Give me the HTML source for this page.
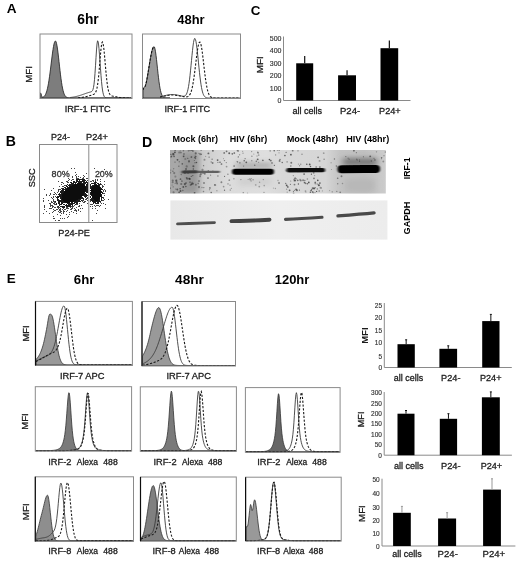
<!DOCTYPE html>
<html><head><meta charset="utf-8"><style>
html,body{margin:0;padding:0;background:#fff;width:520px;height:561px;overflow:hidden;font-family:"Liberation Sans",sans-serif;}
svg{display:block;will-change:transform;}
</style></head><body>
<svg width="520" height="561" viewBox="0 0 520 561" font-family="Liberation Sans, sans-serif"><defs><filter id="gb" x="0" y="0" width="520" height="561" filterUnits="userSpaceOnUse"><feGaussianBlur stdDeviation="0.4"/></filter></defs><g filter="url(#gb)"><rect x="0" y="0" width="520" height="561" fill="#fff"/><text x="6.81" y="13.1" font-size="13.58" font-weight="bold" fill="#000" textLength="9.81" lengthAdjust="spacingAndGlyphs">A</text>
<text x="77.27" y="23.75" font-size="13.79" font-weight="bold" fill="#000" textLength="21.46" lengthAdjust="spacingAndGlyphs">6hr</text>
<text x="177.31" y="23.75" font-size="12.95" font-weight="bold" fill="#000" textLength="27.35" lengthAdjust="spacingAndGlyphs">48hr</text>
<text transform="translate(31.8 82.72) rotate(-90)" x="0" y="0" font-size="9.61" font-weight="normal" fill="#1c1c1c" stroke="#1c1c1c" stroke-width="0.3" textLength="16.55" lengthAdjust="spacingAndGlyphs">MFI</text>
<path d="M40.5 92.89 L41.0 93.73 L41.5 95.47 L42.0 96.79 L42.5 97.27 L43.0 97.23 L43.5 96.97 L44.0 96.57 L44.5 96.04 L45.0 95.34 L45.5 94.46 L46.0 93.34 L46.5 91.96 L47.0 90.29 L47.5 88.28 L48.0 85.93 L48.5 83.22 L49.0 80.15 L49.5 76.75 L50.0 73.06 L50.5 69.14 L51.0 65.07 L51.5 60.96 L52.0 56.93 L52.5 53.09 L53.0 49.59 L53.5 46.54 L54.0 44.08 L54.5 42.29 L55.0 41.26 L55.5 41.02 L56.0 41.71 L56.5 43.34 L57.0 45.84 L57.5 49.07 L58.0 52.90 L58.5 57.13 L59.0 61.61 L59.5 66.15 L60.0 70.60 L60.5 74.84 L61.0 78.76 L61.5 82.28 L62.0 85.39 L62.5 88.05 L63.0 90.29 L63.5 92.12 L64.0 93.60 L64.5 94.76 L65.0 95.66 L65.5 96.33 L66.0 96.84 L66.5 97.20 L67.0 97.46 L67.5 97.64 L68.0 97.77 L68.5 97.85 L69.0 97.91 L69.5 97.94 L70.0 97.96 L70.5 97.98 L71.0 97.99 L71.5 97.99 L72.0 98.00 L72.5 98.00 L73.0 98.00 L73.5 98.00 L74.0 98.00 L74.5 98.00 L75.0 98.00 L75.5 98.00 L76.0 98.00 L76.5 98.00 L77.0 98.00 L77.5 98.00 L78.0 98.00 L78.5 98.00 L79.0 98.00 L79.5 98.00 L80.0 98.00 L80.5 98.00 L81.0 98.00 L81.5 98.00 L82.0 98.00 L82.5 98.00 L83.0 98.00 L83.5 98.00 L84.0 98.00 L84.5 98.00 L85.0 98.00 L85.5 98.00 L86.0 98.00 L86.5 98.00 L87.0 98.00 L87.5 98.00 L88.0 98.00 L88.5 98.00 L89.0 98.00 L89.5 98.00 L90.0 98.00 L90.5 98.00 L91.0 98.00 L91.5 98.00 L92.0 98.00 L92.5 98.00 L93.0 98.00 L93.5 98.00 L94.0 98.00 L94.5 98.00 L95.0 98.00 L95.5 98.00 L96.0 98.00 L96.5 98.00 L97.0 98.00 L97.5 98.00 L98.0 98.00 L98.5 98.00 L99.0 98.00 L99.5 98.00 L100.0 98.00 L100.5 98.00 L101.0 98.00 L101.5 98.00 L102.0 98.00 L102.5 98.00 L103.0 98.00 L103.5 98.00 L104.0 98.00 L104.5 98.00 L105.0 98.00 L105.5 98.00 L106.0 98.00 L106.5 98.00 L107.0 98.00 L107.5 98.00 L108.0 98.00 L108.5 98.00 L109.0 98.00 L109.5 98.00 L110.0 98.00 L110.5 98.00 L111.0 98.00 L111.5 98.00 L112.0 98.00 L112.5 98.00 L113.0 98.00 L113.5 98.00 L114.0 98.00 L114.5 98.00 L115.0 98.00 L115.5 98.00 L116.0 98.00 L116.5 98.00 L117.0 98.00 L117.5 98.00 L118.0 98.00 L118.5 98.00 L119.0 98.00 L119.5 98.00 L120.0 98.00 L120.5 98.00 L121.0 98.00 L121.5 98.00 L122.0 98.00 L122.5 98.00 L123.0 98.00 L123.5 98.00 L124.0 98.00 L124.5 98.00 L125.0 98.00 L125.5 98.00 L126.0 98.00 L126.5 98.00 L127.0 98.00 L127.5 98.00 L128.0 98.00 L128.5 98.00 L129.0 98.00 L129.5 98.00 L130.0 98.00 L130.5 98.00 L131.0 98.00 L131.5 98.00 L131.5 98.0 L40.5 98.0 Z" fill="#7d7d7d" stroke="#2a2a2a" stroke-width="0.9" stroke-linejoin="round"/>
<path d="M70.0 97.51 L70.5 97.46 L71.0 97.40 L71.5 97.34 L72.0 97.27 L72.5 97.20 L73.0 97.12 L73.5 97.04 L74.0 96.95 L74.5 96.86 L75.0 96.76 L75.5 96.65 L76.0 96.54 L76.5 96.42 L77.0 96.30 L77.5 96.17 L78.0 96.03 L78.5 95.89 L79.0 95.74 L79.5 95.59 L80.0 95.43 L80.5 95.27 L81.0 95.11 L81.5 94.94 L82.0 94.77 L82.5 94.59 L83.0 94.41 L83.5 94.24 L84.0 94.06 L84.5 93.88 L85.0 93.70 L85.5 93.52 L86.0 93.35 L86.5 93.18 L87.0 93.01 L87.5 92.85 L88.0 92.69 L88.5 92.54 L89.0 92.40 L89.5 92.26 L90.0 92.13 L90.5 91.99 L91.0 91.83 L91.5 91.60 L92.0 91.23 L92.5 90.57 L93.0 89.39 L93.5 87.40 L94.0 84.24 L94.5 79.60 L95.0 73.33 L95.5 65.76 L96.0 57.63 L96.5 49.98 L97.0 44.02 L97.5 40.90 L98.0 41.19 L98.5 43.97 L99.0 48.69 L99.5 54.83 L100.0 61.76 L100.5 68.83 L101.0 75.51 L101.5 81.38 L102.0 86.23 L102.5 90.02 L103.0 92.81 L103.5 94.77 L104.0 96.08 L104.5 96.90 L105.0 97.40 L105.5 97.69 L106.0 97.84 L106.5 97.92 L107.0 97.97 L107.5 97.98 L108.0 97.99 L108.5 98.00 L109.0 98.00 L109.5 98.00 L110.0 98.00 L110.5 98.00 L111.0 98.00 L111.5 98.00 L112.0 98.00 L112.5 98.00 L113.0 98.00 L113.5 98.00 L114.0 98.00 L114.5 98.00 L115.0 98.00 L115.5 98.00 L116.0 98.00 L116.5 98.00 L117.0 98.00 L117.5 98.00 L118.0 98.00 L118.5 98.00 L119.0 98.00 L119.5 98.00 L120.0 98.00 L120.5 98.00 L121.0 98.00 L121.5 98.00 L122.0 98.00 L122.5 98.00 L123.0 98.00 L123.5 98.00 L124.0 98.00 L124.5 98.00 L125.0 98.00 L125.5 98.00 L126.0 98.00 L126.5 98.00 L127.0 98.00 L127.5 98.00 L128.0 98.00 L128.5 98.00 L129.0 98.00 L129.5 98.00 L130.0 98.00 L130.5 98.00 L131.0 98.00" fill="none" stroke="#3a3a3a" stroke-width="0.9" stroke-linejoin="round"/>
<path d="M78.0 97.77 L78.5 97.74 L79.0 97.70 L79.5 97.66 L80.0 97.62 L80.5 97.57 L81.0 97.52 L81.5 97.46 L82.0 97.39 L82.5 97.32 L83.0 97.24 L83.5 97.16 L84.0 97.07 L84.5 96.98 L85.0 96.88 L85.5 96.77 L86.0 96.66 L86.5 96.54 L87.0 96.41 L87.5 96.28 L88.0 96.15 L88.5 96.01 L89.0 95.87 L89.5 95.72 L90.0 95.57 L90.5 95.42 L91.0 95.27 L91.5 95.11 L92.0 94.95 L92.5 94.79 L93.0 94.61 L93.5 94.40 L94.0 94.14 L94.5 93.80 L95.0 93.32 L95.5 92.62 L96.0 91.61 L96.5 90.15 L97.0 88.11 L97.5 85.37 L98.0 81.82 L98.5 77.41 L99.0 72.22 L99.5 66.40 L100.0 60.28 L100.5 54.32 L101.0 49.07 L101.5 45.02 L102.0 42.57 L102.5 42.00 L103.0 43.24 L103.5 46.06 L104.0 50.20 L104.5 55.31 L105.0 60.98 L105.5 66.81 L106.0 72.43 L106.5 77.55 L107.0 82.00 L107.5 85.68 L108.0 88.61 L108.5 90.85 L109.0 92.49 L109.5 93.68 L110.0 94.52 L110.5 95.11 L111.0 95.50 L111.5 95.76 L112.0 95.94 L112.5 96.08 L113.0 96.19 L113.5 96.29 L114.0 96.39 L114.5 96.48 L115.0 96.58 L115.5 96.68 L116.0 96.79 L116.5 96.89 L117.0 96.99 L117.5 97.08 L118.0 97.18 L118.5 97.27 L119.0 97.35 L119.5 97.43 L120.0 97.50 L120.5 97.57 L121.0 97.63 L121.5 97.68 L122.0 97.73 L122.5 97.77 L123.0 97.81 L123.5 97.84 L124.0 97.87 L124.5 97.89 L125.0 97.91 L125.5 97.93 L126.0 97.94 L126.5 97.95 L127.0 97.96 L127.5 97.97 L128.0 97.98 L128.5 97.98 L129.0 97.99 L129.5 97.99 L130.0 97.99 L130.5 97.99 L131.0 98.00" fill="none" stroke="#1a1a1a" stroke-width="1.1" stroke-dasharray="2.2 1.6"/>
<rect x="40" y="34" width="92" height="64.5" fill="none" stroke="#8a8a8a" stroke-width="1"/>
<text x="64.67" y="112.1" font-size="9.21" font-weight="normal" fill="#1c1c1c" stroke="#1c1c1c" stroke-width="0.3" textLength="46.04" lengthAdjust="spacingAndGlyphs">IRF-1 FITC</text>
<path d="M143.0 89.91 L143.5 88.34 L144.0 87.53 L144.5 87.14 L145.0 86.55 L145.5 85.36 L146.0 83.56 L146.5 81.30 L147.0 78.74 L147.5 75.96 L148.0 73.03 L148.5 69.99 L149.0 66.88 L149.5 63.78 L150.0 60.75 L150.5 57.85 L151.0 55.15 L151.5 52.73 L152.0 50.64 L152.5 48.96 L153.0 47.72 L153.5 46.96 L154.0 46.70 L154.5 47.29 L155.0 49.00 L155.5 51.74 L156.0 55.31 L156.5 59.50 L157.0 64.06 L157.5 68.77 L158.0 73.39 L158.5 77.75 L159.0 81.72 L159.5 85.21 L160.0 88.18 L160.5 90.63 L161.0 92.59 L161.5 94.12 L162.0 95.28 L162.5 96.14 L163.0 96.76 L163.5 97.19 L164.0 97.48 L164.5 97.68 L165.0 97.80 L165.5 97.88 L166.0 97.93 L166.5 97.96 L167.0 97.98 L167.5 97.99 L168.0 97.99 L168.5 98.00 L169.0 98.00 L169.5 98.00 L170.0 98.00 L170 98.0 L143 98.0 Z" fill="#9a9a9a" stroke="#2a2a2a" stroke-width="0.9" stroke-linejoin="round"/>
<path d="M143.0 89.91 L143.5 88.34 L144.0 87.53 L144.5 87.14 L145.0 86.55 L145.5 85.36 L146.0 83.56 L146.5 81.30 L147.0 78.74 L147.5 75.96 L148.0 73.03 L148.5 69.99 L149.0 66.88 L149.5 63.78 L150.0 60.75 L150.5 57.85 L151.0 55.15 L151.5 52.73 L152.0 50.64 L152.5 48.96 L153.0 47.72 L153.5 46.96 L154.0 46.70 L154.5 47.29" fill="none" stroke="#111" stroke-width="1.1" stroke-dasharray="2.2 1.6"/>
<path d="M160.0 96.86 L160.5 96.75 L161.0 96.64 L161.5 96.52 L162.0 96.40 L162.5 96.27 L163.0 96.14 L163.5 96.01 L164.0 95.88 L164.5 95.74 L165.0 95.61 L165.5 95.48 L166.0 95.36 L166.5 95.24 L167.0 95.12 L167.5 95.01 L168.0 94.91 L168.5 94.82 L169.0 94.74 L169.5 94.67 L170.0 94.61 L170.5 94.56 L171.0 94.53 L171.5 94.51 L172.0 94.50 L172.5 94.51 L173.0 94.52 L173.5 94.55 L174.0 94.59 L174.5 94.63 L175.0 94.69 L175.5 94.75 L176.0 94.83 L176.5 94.91 L177.0 95.00 L177.5 95.10 L178.0 95.20 L178.5 95.30 L179.0 95.41 L179.5 95.52 L180.0 95.64 L180.5 95.75 L181.0 95.86 L181.5 95.97 L182.0 96.06 L182.5 96.14 L183.0 96.20 L183.5 96.22 L184.0 96.18 L184.5 96.06 L185.0 95.83 L185.5 95.45 L186.0 94.87 L186.5 94.02 L187.0 92.85 L187.5 91.27 L188.0 89.23 L188.5 86.67 L189.0 83.53 L189.5 79.83 L190.0 75.58 L190.5 70.85 L191.0 65.78 L191.5 60.54 L192.0 55.34 L192.5 50.44 L193.0 46.09 L193.5 42.53 L194.0 39.99 L194.5 38.62 L195.0 38.50 L195.5 39.54 L196.0 41.65 L196.5 44.73 L197.0 48.60 L197.5 53.06 L198.0 57.89 L198.5 62.89 L199.0 67.86 L199.5 72.61 L200.0 77.02 L200.5 81.00 L201.0 84.49 L201.5 87.46 L202.0 89.94 L202.5 91.95 L203.0 93.55 L203.5 94.79 L204.0 95.72 L204.5 96.42 L205.0 96.92 L205.5 97.28 L206.0 97.53 L206.5 97.70 L207.0 97.81 L207.5 97.88 L208.0 97.93 L208.5 97.96 L209.0 97.97 L209.5 97.99 L210.0 97.99 L210.5 98.00 L211.0 98.00 L211.5 98.00 L212.0 98.00 L212.5 98.00 L213.0 98.00 L213.5 98.00 L214.0 98.00 L214.5 98.00 L215.0 98.00 L215.5 98.00 L216.0 98.00 L216.5 98.00 L217.0 98.00 L217.5 98.00 L218.0 98.00 L218.5 98.00 L219.0 98.00 L219.5 98.00 L220.0 98.00 L220.5 98.00 L221.0 98.00 L221.5 98.00 L222.0 98.00 L222.5 98.00 L223.0 98.00 L223.5 98.00 L224.0 98.00 L224.5 98.00 L225.0 98.00 L225.5 98.00 L226.0 98.00 L226.5 98.00 L227.0 98.00 L227.5 98.00 L228.0 98.00 L228.5 98.00 L229.0 98.00 L229.5 98.00 L230.0 98.00 L230.5 98.00 L231.0 98.00 L231.5 98.00 L232.0 98.00 L232.5 98.00 L233.0 98.00 L233.5 98.00 L234.0 98.00 L234.5 98.00 L235.0 98.00 L235.5 98.00 L236.0 98.00 L236.5 98.00 L237.0 98.00 L237.5 98.00 L238.0 98.00 L238.5 98.00 L239.0 98.00 L239.5 98.00 L240.0 98.00" fill="none" stroke="#3a3a3a" stroke-width="0.9" stroke-linejoin="round"/>
<path d="M160.0 97.03 L160.5 96.93 L161.0 96.83 L161.5 96.73 L162.0 96.63 L162.5 96.52 L163.0 96.41 L163.5 96.29 L164.0 96.18 L164.5 96.07 L165.0 95.95 L165.5 95.84 L166.0 95.74 L166.5 95.63 L167.0 95.53 L167.5 95.44 L168.0 95.35 L168.5 95.27 L169.0 95.20 L169.5 95.14 L170.0 95.09 L170.5 95.05 L171.0 95.02 L171.5 95.01 L172.0 95.00 L172.5 95.00 L173.0 95.02 L173.5 95.04 L174.0 95.07 L174.5 95.11 L175.0 95.16 L175.5 95.22 L176.0 95.28 L176.5 95.35 L177.0 95.43 L177.5 95.51 L178.0 95.60 L178.5 95.69 L179.0 95.78 L179.5 95.88 L180.0 95.98 L180.5 96.08 L181.0 96.18 L181.5 96.28 L182.0 96.38 L182.5 96.47 L183.0 96.57 L183.5 96.65 L184.0 96.73 L184.5 96.80 L185.0 96.86 L185.5 96.90 L186.0 96.91 L186.5 96.89 L187.0 96.82 L187.5 96.70 L188.0 96.49 L188.5 96.19 L189.0 95.75 L189.5 95.16 L190.0 94.38 L190.5 93.36 L191.0 92.08 L191.5 90.50 L192.0 88.58 L192.5 86.30 L193.0 83.66 L193.5 80.64 L194.0 77.27 L194.5 73.59 L195.0 69.68 L195.5 65.61 L196.0 61.48 L196.5 57.44 L197.0 53.60 L197.5 50.12 L198.0 47.12 L198.5 44.73 L199.0 43.05 L199.5 42.15 L200.0 42.08 L200.5 42.90 L201.0 44.60 L201.5 47.08 L202.0 50.25 L202.5 53.94 L203.0 58.02 L203.5 62.30 L204.0 66.65 L204.5 70.92 L205.0 74.98 L205.5 78.76 L206.0 82.18 L206.5 85.20 L207.0 87.82 L207.5 90.03 L208.0 91.86 L208.5 93.35 L209.0 94.54 L209.5 95.46 L210.0 96.17 L210.5 96.70 L211.0 97.09 L211.5 97.38 L212.0 97.58 L212.5 97.72 L213.0 97.82 L213.5 97.88 L214.0 97.93 L214.5 97.95 L215.0 97.97 L215.5 97.98 L216.0 97.99 L216.5 97.99 L217.0 98.00 L217.5 98.00 L218.0 98.00 L218.5 98.00 L219.0 98.00 L219.5 98.00 L220.0 98.00 L220.5 98.00 L221.0 98.00 L221.5 98.00 L222.0 98.00 L222.5 98.00 L223.0 98.00 L223.5 98.00 L224.0 98.00 L224.5 98.00 L225.0 98.00 L225.5 98.00 L226.0 98.00 L226.5 98.00 L227.0 98.00 L227.5 98.00 L228.0 98.00 L228.5 98.00 L229.0 98.00 L229.5 98.00 L230.0 98.00 L230.5 98.00 L231.0 98.00 L231.5 98.00 L232.0 98.00 L232.5 98.00 L233.0 98.00 L233.5 98.00 L234.0 98.00 L234.5 98.00 L235.0 98.00 L235.5 98.00 L236.0 98.00 L236.5 98.00 L237.0 98.00 L237.5 98.00 L238.0 98.00 L238.5 98.00 L239.0 98.00 L239.5 98.00 L240.0 98.00" fill="none" stroke="#1a1a1a" stroke-width="1.1" stroke-dasharray="2.2 1.6"/>
<rect x="142.5" y="34" width="98.0" height="64.5" fill="none" stroke="#8a8a8a" stroke-width="1"/>
<text x="164.43" y="112.2" font-size="9.14" font-weight="normal" fill="#1c1c1c" stroke="#1c1c1c" stroke-width="0.3" textLength="45.68" lengthAdjust="spacingAndGlyphs">IRF-1 FITC</text>
<text x="250.72" y="15" font-size="13.36" font-weight="bold" fill="#000" textLength="9.65" lengthAdjust="spacingAndGlyphs">C</text>
<text transform="translate(262.5 73.29) rotate(-90)" x="0" y="0" font-size="9.90" font-weight="normal" fill="#1c1c1c" stroke="#1c1c1c" stroke-width="0.3" textLength="17.05" lengthAdjust="spacingAndGlyphs">MFI</text>
<text x="281.5" y="103.1" font-size="7" font-weight="normal" text-anchor="end" fill="#333" stroke="#333" stroke-width="0.15">0</text>
<text x="281.5" y="90.6" font-size="7" font-weight="normal" text-anchor="end" fill="#333" stroke="#333" stroke-width="0.15">100</text>
<text x="281.5" y="78.1" font-size="7" font-weight="normal" text-anchor="end" fill="#333" stroke="#333" stroke-width="0.15">200</text>
<text x="281.5" y="65.6" font-size="7" font-weight="normal" text-anchor="end" fill="#333" stroke="#333" stroke-width="0.15">300</text>
<text x="281.5" y="53.099999999999994" font-size="7" font-weight="normal" text-anchor="end" fill="#333" stroke="#333" stroke-width="0.15">400</text>
<text x="281.5" y="40.599999999999994" font-size="7" font-weight="normal" text-anchor="end" fill="#333" stroke="#333" stroke-width="0.15">500</text>
<path d="M283.5 36.5 V100.5 H410.5" fill="none" stroke="#8a8a8a" stroke-width="1"/>
<rect x="296.2" y="63.3" width="17.0" height="37.2" fill="#000"/>
<path d="M304.7 63.3 V56" stroke="#111" stroke-width="1.2"/>
<rect x="338.1" y="75.3" width="17.899999999999977" height="25.200000000000003" fill="#000"/>
<path d="M347.05 75.3 V70.2" stroke="#111" stroke-width="1.2"/>
<rect x="380.5" y="48.2" width="17.69999999999999" height="52.3" fill="#000"/>
<path d="M389.35 48.2 V40.4" stroke="#111" stroke-width="1.2"/>
<text x="292.39" y="113.75" font-size="9.05" font-weight="normal" fill="#1c1c1c" stroke="#1c1c1c" stroke-width="0.3" textLength="29.67" lengthAdjust="spacingAndGlyphs">all cells</text>
<text x="339.99" y="113.75" font-size="9.55" font-weight="normal" fill="#1c1c1c" stroke="#1c1c1c" stroke-width="0.3" textLength="20.17" lengthAdjust="spacingAndGlyphs">P24-</text>
<text x="379.02" y="113.75" font-size="9.17" font-weight="normal" fill="#1c1c1c" stroke="#1c1c1c" stroke-width="0.3" textLength="21.68" lengthAdjust="spacingAndGlyphs">P24+</text>
<text x="5.83" y="146.1" font-size="14.10" font-weight="bold" fill="#000" textLength="10.18" lengthAdjust="spacingAndGlyphs">B</text>
<text x="51.03" y="140" font-size="8.99" font-weight="normal" fill="#1c1c1c" stroke="#1c1c1c" stroke-width="0.3" textLength="19.00" lengthAdjust="spacingAndGlyphs">P24-</text>
<text x="86.01" y="140" font-size="9.31" font-weight="normal" fill="#1c1c1c" stroke="#1c1c1c" stroke-width="0.3" textLength="21.99" lengthAdjust="spacingAndGlyphs">P24+</text>
<text transform="translate(35.1 187.26) rotate(-90)" x="0" y="0" font-size="9.16" font-weight="normal" fill="#1c1c1c" stroke="#1c1c1c" stroke-width="0.3" textLength="18.84" lengthAdjust="spacingAndGlyphs">SSC</text>
<text x="58.27" y="236.4" font-size="9.17" font-weight="normal" fill="#1c1c1c" stroke="#1c1c1c" stroke-width="0.3" textLength="31.61" lengthAdjust="spacingAndGlyphs">P24-PE</text>
<defs><filter id="sblur" x="0" y="0" width="1" height="1"><feGaussianBlur stdDeviation="0.35"/></filter></defs><g filter="url(#sblur)">
<rect x="40" y="145" width="76.5" height="77" fill="#fff"/>
<path d="M71 168h1v1h-1zM74 168h1v1h-1zM94 168h1v1h-1zM104 169h1v1h-1zM75 172h1v1h-1zM86 173h1v1h-1zM76 174h1v1h-1zM75 175h1v1h-1zM83 175h1v1h-1zM72 176h1v1h-1zM76 176h1v1h-1zM78 176h1v1h-1zM84 176h1v1h-1zM72 177h1v1h-1zM76 177h1v1h-1zM80 177h1v1h-1zM83 177h1v1h-1zM68 178h1v1h-1zM76 178h3v1h-3zM82 178h2v1h-2zM86 178h2v1h-2zM69 179h1v1h-1zM72 179h2v1h-2zM95 179h1v1h-1zM97 179h1v1h-1zM100 179h1v1h-1zM68 180h1v1h-1zM71 180h1v1h-1zM87 180h1v1h-1zM92 180h2v1h-2zM95 180h1v1h-1zM97 180h1v1h-1zM58 181h1v1h-1zM66 181h2v1h-2zM90 181h2v1h-2zM93 181h1v1h-1zM100 181h1v1h-1zM104 181h1v1h-1zM61 182h2v1h-2zM67 182h2v1h-2zM63 183h1v1h-1zM100 183h1v1h-1zM61 184h1v1h-1zM101 184h1v1h-1zM104 184h1v1h-1zM64 185h2v1h-2zM102 185h1v1h-1zM59 186h1v1h-1zM62 186h2v1h-2zM102 186h2v1h-2zM102 187h1v1h-1zM53 188h1v1h-1zM61 188h1v1h-1zM44 189h1v1h-1zM58 189h3v1h-3zM104 189h1v1h-1zM51 190h1v1h-1zM58 190h1v1h-1zM103 190h1v1h-1zM105 190h1v1h-1zM58 191h1v1h-1zM103 191h1v1h-1zM105 191h1v1h-1zM54 192h1v1h-1zM57 192h1v1h-1zM50 193h1v1h-1zM55 193h1v1h-1zM103 193h2v1h-2zM46 194h1v1h-1zM50 194h1v1h-1zM53 194h2v1h-2zM56 194h1v1h-1zM46 195h1v1h-1zM49 195h1v1h-1zM104 195h1v1h-1zM53 196h1v1h-1zM55 196h1v1h-1zM51 197h1v1h-1zM53 197h1v1h-1zM87 197h1v1h-1zM103 197h1v1h-1zM43 198h1v1h-1zM52 198h1v1h-1zM86 198h2v1h-2zM103 198h1v1h-1zM53 199h1v1h-1zM85 199h2v1h-2zM104 199h1v1h-1zM108 199h1v1h-1zM43 200h1v1h-1zM48 200h1v1h-1zM53 200h1v1h-1zM82 200h2v1h-2zM87 200h1v1h-1zM90 200h1v1h-1zM102 200h2v1h-2zM43 201h1v1h-1zM51 201h1v1h-1zM53 201h2v1h-2zM82 201h1v1h-1zM84 201h2v1h-2zM90 201h1v1h-1zM51 202h2v1h-2zM54 202h2v1h-2zM83 202h2v1h-2zM100 202h1v1h-1zM49 203h2v1h-2zM53 203h2v1h-2zM79 203h1v1h-1zM87 203h1v1h-1zM101 203h1v1h-1zM103 203h1v1h-1zM50 204h1v1h-1zM54 204h2v1h-2zM76 204h2v1h-2zM90 204h3v1h-3zM105 204h1v1h-1zM44 205h1v1h-1zM50 205h3v1h-3zM74 205h1v1h-1zM79 205h1v1h-1zM81 205h1v1h-1zM94 205h1v1h-1zM96 205h3v1h-3zM100 205h1v1h-1zM44 206h1v1h-1zM50 206h1v1h-1zM52 206h2v1h-2zM57 206h1v1h-1zM71 206h3v1h-3zM78 206h2v1h-2zM90 206h1v1h-1zM92 206h1v1h-1zM95 206h1v1h-1zM99 206h1v1h-1zM44 207h1v1h-1zM52 207h1v1h-1zM54 207h2v1h-2zM57 207h3v1h-3zM66 207h2v1h-2zM70 207h1v1h-1zM72 207h1v1h-1zM76 207h1v1h-1zM49 208h3v1h-3zM58 208h1v1h-1zM60 208h1v1h-1zM63 208h1v1h-1zM66 208h3v1h-3zM71 208h2v1h-2zM74 208h1v1h-1zM80 208h1v1h-1zM82 208h1v1h-1zM92 208h1v1h-1zM95 208h1v1h-1zM105 208h1v1h-1zM44 209h1v1h-1zM53 209h1v1h-1zM56 209h2v1h-2zM59 209h2v1h-2zM62 209h1v1h-1zM64 209h2v1h-2zM70 209h2v1h-2zM75 209h1v1h-1zM78 209h1v1h-1zM54 210h2v1h-2zM59 210h2v1h-2zM63 210h1v1h-1zM67 210h1v1h-1zM74 210h3v1h-3zM78 210h1v1h-1zM97 210h1v1h-1zM46 211h1v1h-1zM53 211h1v1h-1zM58 211h1v1h-1zM60 211h2v1h-2zM63 211h2v1h-2zM66 211h1v1h-1zM71 211h1v1h-1zM76 211h1v1h-1zM80 211h1v1h-1zM52 212h1v1h-1zM59 212h2v1h-2zM63 212h1v1h-1zM69 212h1v1h-1zM73 212h1v1h-1zM43 213h1v1h-1zM49 213h1v1h-1zM61 213h1v1h-1zM63 213h1v1h-1zM76 213h1v1h-1zM96 213h1v1h-1zM57 214h1v1h-1zM66 214h1v1h-1zM69 214h1v1h-1zM60 215h1v1h-1zM53 216h1v1h-1zM68 216h1v1h-1zM67 217h1v1h-1zM53 218h2v1h-2zM60 218h1v1h-1zM62 218h1v1h-1zM64 218h1v1h-1zM55 220h1v1h-1zM58 220h2v1h-2zM92 220h1v1h-1z" fill="#444"/>
<path d="M76 179h9v1h-9zM76 180h2v1h-2zM79 180h1v1h-1zM82 180h4v1h-4zM73 181h2v1h-2zM76 181h9v1h-9zM86 181h1v1h-1zM95 181h1v1h-1zM70 182h2v1h-2zM73 182h4v1h-4zM78 182h4v1h-4zM83 182h5v1h-5zM94 182h3v1h-3zM71 183h3v1h-3zM75 183h1v1h-1zM81 183h5v1h-5zM87 183h1v1h-1zM91 183h5v1h-5zM97 183h2v1h-2zM67 184h1v1h-1zM69 184h5v1h-5zM84 184h1v1h-1zM86 184h2v1h-2zM90 184h1v1h-1zM94 184h3v1h-3zM98 184h3v1h-3zM66 185h1v1h-1zM68 185h4v1h-4zM86 185h2v1h-2zM90 185h1v1h-1zM92 185h2v1h-2zM98 185h2v1h-2zM66 186h2v1h-2zM69 186h1v1h-1zM85 186h3v1h-3zM90 186h3v1h-3zM99 186h1v1h-1zM64 187h2v1h-2zM67 187h2v1h-2zM86 187h2v1h-2zM90 187h2v1h-2zM100 187h1v1h-1zM62 188h2v1h-2zM65 188h2v1h-2zM86 188h2v1h-2zM90 188h2v1h-2zM100 188h2v1h-2zM62 189h4v1h-4zM86 189h2v1h-2zM101 189h2v1h-2zM61 190h3v1h-3zM86 190h2v1h-2zM90 190h1v1h-1zM60 191h4v1h-4zM85 191h3v1h-3zM101 191h1v1h-1zM60 192h4v1h-4zM86 192h2v1h-2zM90 192h1v1h-1zM101 192h2v1h-2zM59 193h1v1h-1zM61 193h2v1h-2zM84 193h2v1h-2zM90 193h1v1h-1zM102 193h1v1h-1zM58 194h4v1h-4zM84 194h3v1h-3zM90 194h1v1h-1zM101 194h1v1h-1zM59 195h3v1h-3zM83 195h5v1h-5zM91 195h1v1h-1zM101 195h1v1h-1zM57 196h5v1h-5zM84 196h3v1h-3zM90 196h1v1h-1zM101 196h1v1h-1zM56 197h3v1h-3zM60 197h2v1h-2zM81 197h2v1h-2zM85 197h1v1h-1zM90 197h1v1h-1zM101 197h2v1h-2zM57 198h1v1h-1zM60 198h2v1h-2zM80 198h4v1h-4zM91 198h2v1h-2zM101 198h1v1h-1zM57 199h2v1h-2zM61 199h1v1h-1zM78 199h3v1h-3zM83 199h1v1h-1zM90 199h4v1h-4zM99 199h1v1h-1zM101 199h1v1h-1zM57 200h6v1h-6zM76 200h4v1h-4zM81 200h1v1h-1zM91 200h4v1h-4zM98 200h2v1h-2zM101 200h1v1h-1zM55 201h1v1h-1zM58 201h6v1h-6zM74 201h7v1h-7zM92 201h9v1h-9zM58 202h2v1h-2zM61 202h5v1h-5zM71 202h2v1h-2zM74 202h4v1h-4zM93 202h3v1h-3zM97 202h2v1h-2zM56 203h1v1h-1zM58 203h2v1h-2zM61 203h2v1h-2zM67 203h8v1h-8zM76 203h2v1h-2zM93 203h1v1h-1zM95 203h4v1h-4zM56 204h1v1h-1zM59 204h3v1h-3zM63 204h2v1h-2zM66 204h1v1h-1zM68 204h5v1h-5zM75 204h1v1h-1zM59 205h1v1h-1zM65 205h6v1h-6zM72 205h1v1h-1zM58 206h1v1h-1zM60 206h5v1h-5zM66 206h5v1h-5zM62 207h3v1h-3z" fill="#1a1a1a"/>
<path d="M77 183h4v1h-4zM74 184h10v1h-10zM72 185h13v1h-13zM94 185h4v1h-4zM70 186h15v1h-15zM93 186h6v1h-6zM69 187h17v1h-17zM92 187h8v1h-8zM67 188h19v1h-19zM92 188h8v1h-8zM66 189h20v1h-20zM91 189h10v1h-10zM65 190h21v1h-21zM91 190h10v1h-10zM64 191h21v1h-21zM91 191h10v1h-10zM64 192h21v1h-21zM91 192h10v1h-10zM63 193h21v1h-21zM91 193h10v1h-10zM62 194h22v1h-22zM91 194h10v1h-10zM62 195h21v1h-21zM92 195h9v1h-9zM62 196h20v1h-20zM92 196h9v1h-9zM62 197h19v1h-19zM92 197h8v1h-8zM62 198h18v1h-18zM93 198h7v1h-7zM62 199h16v1h-16zM94 199h5v1h-5zM63 200h13v1h-13zM95 200h3v1h-3zM64 201h10v1h-10zM66 202h4v1h-4z" fill="#111"/>
</g>
<rect x="39.5" y="144.5" width="77.5" height="78.0" fill="none" stroke="#8a8a8a" stroke-width="1"/>
<path d="M88.8 144.5 V222.5" stroke="#8a8a8a" stroke-width="1"/>
<text x="51.64" y="176.8" font-size="9.06" font-weight="normal" fill="#333" stroke="#333" stroke-width="0.3" textLength="18.14" lengthAdjust="spacingAndGlyphs">80%</text>
<text x="94.91" y="176.8" font-size="8.88" font-weight="normal" fill="#333" stroke="#333" stroke-width="0.3" textLength="17.77" lengthAdjust="spacingAndGlyphs">20%</text>
<text x="142.03" y="147.1" font-size="14.15" font-weight="bold" fill="#000" textLength="10.22" lengthAdjust="spacingAndGlyphs">D</text>
<text x="172.47" y="142.4" font-size="9.00" font-weight="bold" fill="#000" textLength="45.50" lengthAdjust="spacingAndGlyphs">Mock (6hr)</text>
<text x="229.77" y="142.4" font-size="8.98" font-weight="bold" fill="#000" textLength="37.41" lengthAdjust="spacingAndGlyphs">HIV (6hr)</text>
<text x="286.65" y="142.4" font-size="9.16" font-weight="bold" fill="#000" textLength="51.43" lengthAdjust="spacingAndGlyphs">Mock (48hr)</text>
<text x="346.26" y="142.4" font-size="9.09" font-weight="bold" fill="#000" textLength="42.93" lengthAdjust="spacingAndGlyphs">HIV (48hr)</text>
<text transform="translate(410 179.21) rotate(-90)" x="0" y="0" font-size="8.67" font-weight="bold" fill="#000" textLength="21.68" lengthAdjust="spacingAndGlyphs">IRF-1</text>
<text transform="translate(410 234.41) rotate(-90)" x="0" y="0" font-size="9.07" font-weight="bold" fill="#000" textLength="32.77" lengthAdjust="spacingAndGlyphs">GAPDH</text>
<defs><filter id="bl1" x="-20%" y="-200%" width="140%" height="500%"><feGaussianBlur stdDeviation="0.9 0.7"/></filter><filter id="bl0" x="-20%" y="-200%" width="140%" height="500%"><feGaussianBlur stdDeviation="0.6 0.5"/></filter><filter id="bl2" x="-30%" y="-60%" width="160%" height="220%"><feGaussianBlur stdDeviation="3 2.5"/></filter><clipPath id="cup"><rect x="170" y="150" width="215.8" height="43.5"/></clipPath><clipPath id="clo"><rect x="170.4" y="200.4" width="217" height="39.2"/></clipPath><linearGradient id="gup" gradientUnits="userSpaceOnUse" x1="170" x2="386" y1="0" y2="0"><stop offset="0" stop-color="#a8a8a8"/><stop offset="0.11" stop-color="#afafaf"/><stop offset="0.15" stop-color="#cccccc"/><stop offset="0.27" stop-color="#dcdcdc"/><stop offset="0.45" stop-color="#dedede"/><stop offset="0.52" stop-color="#d8d8d8"/><stop offset="0.72" stop-color="#d6d6d6"/><stop offset="0.785" stop-color="#c4c4c4"/><stop offset="0.9" stop-color="#c0c0c0"/><stop offset="1" stop-color="#cccccc"/></linearGradient><linearGradient id="glo" gradientUnits="userSpaceOnUse" x1="170" x2="388" y1="0" y2="0"><stop offset="0" stop-color="#e8e8e8"/><stop offset="0.5" stop-color="#efefef"/><stop offset="1" stop-color="#ececec"/></linearGradient></defs>
<rect x="170" y="150" width="215.8" height="43.5" fill="url(#gup)"/>
<g clip-path="url(#cup)"><g filter="url(#bl2)"><rect x="236" y="162" width="36" height="7" fill="#b0b0b0"/><rect x="238" y="177" width="34" height="9" fill="#d0d0d0"/><rect x="343" y="158" width="34" height="8" fill="#7a7a7a"/><rect x="345" y="179" width="30" height="13" fill="#b8b8b8"/><rect x="172" y="154" width="24" height="38" fill="#a8a8a8" opacity="0.7"/><rect x="181" y="153" width="18" height="40" fill="#8c8c8c" opacity="0.6"/></g></g>
<g clip-path="url(#cup)"><g filter="url(#bl0)"><circle cx="177.5" cy="159.8" r="0.91" fill="#333" opacity="0.75"/><circle cx="192.8" cy="175.6" r="0.61" fill="#333" opacity="0.71"/><circle cx="193.4" cy="166.2" r="1.03" fill="#333" opacity="0.70"/><circle cx="192.9" cy="151.0" r="0.95" fill="#333" opacity="0.46"/><circle cx="173.0" cy="153.4" r="0.68" fill="#333" opacity="0.48"/><circle cx="181.2" cy="174.5" r="0.75" fill="#333" opacity="0.46"/><circle cx="189.9" cy="178.9" r="0.80" fill="#333" opacity="0.55"/><circle cx="196.5" cy="162.4" r="0.76" fill="#333" opacity="0.77"/><circle cx="173.2" cy="154.4" r="1.05" fill="#333" opacity="0.70"/><circle cx="183.6" cy="156.3" r="0.87" fill="#333" opacity="0.76"/><circle cx="201.0" cy="173.9" r="1.10" fill="#333" opacity="0.39"/><circle cx="179.2" cy="152.6" r="1.02" fill="#333" opacity="0.40"/><circle cx="195.1" cy="156.0" r="0.62" fill="#333" opacity="0.48"/><circle cx="195.9" cy="184.8" r="0.96" fill="#333" opacity="0.45"/><circle cx="177.1" cy="183.5" r="0.91" fill="#333" opacity="0.56"/><circle cx="191.4" cy="184.2" r="0.87" fill="#333" opacity="0.72"/><circle cx="204.8" cy="173.6" r="0.82" fill="#333" opacity="0.59"/><circle cx="172.7" cy="182.2" r="0.97" fill="#333" opacity="0.45"/><circle cx="203.1" cy="173.2" r="0.81" fill="#333" opacity="0.61"/><circle cx="185.6" cy="171.5" r="1.10" fill="#333" opacity="0.81"/><circle cx="184.9" cy="184.1" r="1.06" fill="#333" opacity="0.69"/><circle cx="204.9" cy="174.1" r="0.70" fill="#333" opacity="0.49"/><circle cx="175.8" cy="189.1" r="0.63" fill="#333" opacity="0.52"/><circle cx="203.5" cy="191.5" r="0.72" fill="#333" opacity="0.47"/><circle cx="171.5" cy="156.2" r="0.69" fill="#333" opacity="0.52"/><circle cx="172.2" cy="185.0" r="0.61" fill="#333" opacity="0.39"/><circle cx="184.7" cy="172.4" r="1.02" fill="#333" opacity="0.41"/><circle cx="170.7" cy="170.1" r="0.66" fill="#333" opacity="0.40"/><circle cx="190.7" cy="185.0" r="1.04" fill="#333" opacity="0.45"/><circle cx="186.5" cy="177.7" r="0.82" fill="#333" opacity="0.61"/><circle cx="174.2" cy="173.1" r="1.07" fill="#333" opacity="0.44"/><circle cx="190.0" cy="182.2" r="1.02" fill="#333" opacity="0.43"/><circle cx="202.5" cy="169.9" r="1.06" fill="#333" opacity="0.44"/><circle cx="195.0" cy="162.8" r="0.70" fill="#333" opacity="0.55"/><circle cx="175.2" cy="183.3" r="0.64" fill="#333" opacity="0.48"/><circle cx="192.8" cy="183.7" r="1.06" fill="#333" opacity="0.66"/><circle cx="179.1" cy="192.3" r="0.88" fill="#333" opacity="0.67"/><circle cx="175.0" cy="162.1" r="0.70" fill="#333" opacity="0.63"/><circle cx="180.1" cy="188.7" r="0.75" fill="#333" opacity="0.73"/><circle cx="182.3" cy="163.8" r="0.85" fill="#333" opacity="0.61"/><circle cx="171.2" cy="156.8" r="1.07" fill="#333" opacity="0.40"/><circle cx="194.9" cy="157.8" r="0.82" fill="#333" opacity="0.73"/><circle cx="173.2" cy="186.8" r="0.64" fill="#333" opacity="0.56"/><circle cx="183.3" cy="186.9" r="0.86" fill="#333" opacity="0.80"/><circle cx="187.4" cy="178.6" r="1.06" fill="#333" opacity="0.45"/><circle cx="192.1" cy="182.8" r="1.05" fill="#333" opacity="0.40"/><circle cx="173.9" cy="154.0" r="0.73" fill="#333" opacity="0.57"/><circle cx="200.1" cy="176.3" r="0.92" fill="#333" opacity="0.51"/><circle cx="191.3" cy="176.4" r="0.66" fill="#333" opacity="0.62"/><circle cx="181.9" cy="181.1" r="0.95" fill="#333" opacity="0.47"/><circle cx="200.1" cy="154.2" r="1.09" fill="#333" opacity="0.36"/><circle cx="177.3" cy="189.4" r="0.98" fill="#333" opacity="0.65"/><circle cx="180.5" cy="191.1" r="1.01" fill="#333" opacity="0.78"/><circle cx="179.3" cy="161.7" r="0.81" fill="#333" opacity="0.38"/><circle cx="183.4" cy="150.7" r="0.77" fill="#333" opacity="0.52"/><circle cx="180.3" cy="150.9" r="0.61" fill="#333" opacity="0.37"/><circle cx="175.1" cy="150.5" r="0.75" fill="#333" opacity="0.61"/><circle cx="191.4" cy="157.0" r="0.86" fill="#333" opacity="0.75"/><circle cx="182.8" cy="190.5" r="0.81" fill="#333" opacity="0.50"/><circle cx="199.0" cy="187.1" r="1.05" fill="#333" opacity="0.55"/><circle cx="175.4" cy="176.6" r="1.06" fill="#333" opacity="0.36"/><circle cx="185.3" cy="159.1" r="1.02" fill="#333" opacity="0.35"/><circle cx="170.3" cy="172.7" r="0.89" fill="#333" opacity="0.37"/><circle cx="176.3" cy="180.5" r="1.08" fill="#333" opacity="0.71"/><circle cx="201.2" cy="150.2" r="0.92" fill="#333" opacity="0.35"/><circle cx="180.9" cy="152.6" r="0.97" fill="#333" opacity="0.46"/><circle cx="194.4" cy="160.5" r="0.60" fill="#333" opacity="0.50"/><circle cx="174.1" cy="156.3" r="0.84" fill="#333" opacity="0.65"/><circle cx="201.2" cy="154.3" r="0.74" fill="#333" opacity="0.67"/><circle cx="189.3" cy="178.7" r="0.99" fill="#333" opacity="0.84"/><circle cx="191.8" cy="150.2" r="0.91" fill="#333" opacity="0.45"/><circle cx="186.7" cy="166.4" r="1.06" fill="#333" opacity="0.43"/><circle cx="185.9" cy="186.5" r="0.74" fill="#333" opacity="0.71"/><circle cx="173.6" cy="192.4" r="1.05" fill="#333" opacity="0.44"/><circle cx="204.5" cy="159.8" r="1.00" fill="#333" opacity="0.41"/><circle cx="189.0" cy="160.8" r="0.86" fill="#333" opacity="0.57"/><circle cx="203.6" cy="165.7" r="0.67" fill="#333" opacity="0.59"/><circle cx="198.9" cy="153.4" r="0.72" fill="#333" opacity="0.37"/><circle cx="195.6" cy="158.5" r="0.64" fill="#333" opacity="0.50"/><circle cx="188.0" cy="173.0" r="0.71" fill="#333" opacity="0.75"/><circle cx="193.3" cy="169.1" r="0.74" fill="#333" opacity="0.71"/><circle cx="174.9" cy="152.4" r="0.83" fill="#333" opacity="0.82"/><circle cx="195.7" cy="153.4" r="1.05" fill="#333" opacity="0.58"/><circle cx="188.7" cy="150.6" r="1.09" fill="#333" opacity="0.41"/><circle cx="199.0" cy="181.1" r="0.80" fill="#333" opacity="0.67"/><circle cx="198.2" cy="183.5" r="0.72" fill="#333" opacity="0.51"/><circle cx="200.3" cy="174.7" r="1.00" fill="#333" opacity="0.36"/><circle cx="186.0" cy="183.0" r="0.86" fill="#333" opacity="0.67"/><circle cx="184.0" cy="154.0" r="0.79" fill="#333" opacity="0.70"/><circle cx="190.2" cy="179.2" r="0.61" fill="#333" opacity="0.39"/><circle cx="172.8" cy="180.5" r="1.03" fill="#333" opacity="0.48"/><circle cx="173.6" cy="168.8" r="0.69" fill="#333" opacity="0.36"/><circle cx="185.1" cy="172.7" r="1.03" fill="#333" opacity="0.54"/><circle cx="203.8" cy="187.6" r="0.68" fill="#333" opacity="0.53"/><circle cx="204.0" cy="183.0" r="1.10" fill="#333" opacity="0.45"/><circle cx="170.9" cy="154.4" r="0.65" fill="#333" opacity="0.68"/><circle cx="186.9" cy="178.7" r="0.70" fill="#333" opacity="0.49"/><circle cx="189.0" cy="161.7" r="0.76" fill="#333" opacity="0.75"/><circle cx="186.0" cy="169.0" r="1.01" fill="#333" opacity="0.63"/><circle cx="190.5" cy="150.1" r="1.07" fill="#333" opacity="0.36"/><circle cx="178.8" cy="166.3" r="0.70" fill="#333" opacity="0.50"/><circle cx="195.7" cy="156.6" r="0.95" fill="#333" opacity="0.59"/><circle cx="194.6" cy="192.8" r="0.92" fill="#333" opacity="0.68"/><circle cx="180.5" cy="179.2" r="0.89" fill="#333" opacity="0.64"/><circle cx="170.1" cy="188.2" r="0.85" fill="#333" opacity="0.47"/><circle cx="187.8" cy="158.3" r="0.64" fill="#333" opacity="0.63"/><circle cx="181.2" cy="184.0" r="1.02" fill="#333" opacity="0.51"/><circle cx="176.5" cy="182.0" r="1.10" fill="#333" opacity="0.49"/><circle cx="172.9" cy="171.3" r="0.71" fill="#333" opacity="0.55"/><circle cx="202.0" cy="187.5" r="0.72" fill="#333" opacity="0.41"/><circle cx="228.0" cy="183.8" r="0.89" fill="#444" opacity="0.37"/><circle cx="231.3" cy="188.4" r="0.58" fill="#444" opacity="0.45"/><circle cx="208.4" cy="153.4" r="0.97" fill="#444" opacity="0.76"/><circle cx="212.6" cy="163.0" r="0.94" fill="#444" opacity="0.63"/><circle cx="224.5" cy="190.2" r="0.61" fill="#444" opacity="0.84"/><circle cx="212.9" cy="150.8" r="0.93" fill="#444" opacity="0.77"/><circle cx="217.9" cy="162.4" r="0.56" fill="#444" opacity="0.63"/><circle cx="229.3" cy="180.2" r="0.91" fill="#444" opacity="0.49"/><circle cx="205.6" cy="156.4" r="0.66" fill="#444" opacity="0.35"/><circle cx="230.3" cy="190.1" r="0.79" fill="#444" opacity="0.40"/><circle cx="217.6" cy="160.1" r="0.92" fill="#444" opacity="0.80"/><circle cx="223.6" cy="186.7" r="0.83" fill="#444" opacity="0.48"/><circle cx="224.5" cy="160.6" r="0.71" fill="#444" opacity="0.63"/><circle cx="216.9" cy="190.8" r="0.53" fill="#444" opacity="0.77"/><circle cx="226.6" cy="166.6" r="0.89" fill="#444" opacity="0.46"/><circle cx="226.6" cy="151.3" r="0.90" fill="#444" opacity="0.69"/><circle cx="212.1" cy="159.3" r="0.74" fill="#444" opacity="0.59"/><circle cx="221.5" cy="164.0" r="0.87" fill="#444" opacity="0.75"/><circle cx="209.5" cy="189.7" r="0.62" fill="#444" opacity="0.45"/><circle cx="209.9" cy="187.9" r="0.89" fill="#444" opacity="0.61"/><circle cx="224.2" cy="152.9" r="0.91" fill="#444" opacity="0.69"/><circle cx="208.0" cy="178.0" r="0.86" fill="#444" opacity="0.78"/><circle cx="212.9" cy="170.9" r="0.64" fill="#444" opacity="0.47"/><circle cx="214.9" cy="184.9" r="0.97" fill="#444" opacity="0.73"/><circle cx="210.6" cy="175.2" r="0.59" fill="#444" opacity="0.57"/><circle cx="223.5" cy="158.6" r="0.53" fill="#444" opacity="0.44"/><circle cx="209.7" cy="172.2" r="0.68" fill="#444" opacity="0.81"/><circle cx="211.2" cy="192.6" r="0.79" fill="#444" opacity="0.73"/><circle cx="227.9" cy="174.2" r="0.71" fill="#444" opacity="0.59"/><circle cx="208.3" cy="170.7" r="0.78" fill="#444" opacity="0.59"/><circle cx="229.2" cy="153.2" r="0.93" fill="#444" opacity="0.83"/><circle cx="220.0" cy="162.2" r="0.81" fill="#444" opacity="0.75"/><circle cx="224.6" cy="176.4" r="0.54" fill="#444" opacity="0.78"/><circle cx="230.0" cy="185.1" r="0.67" fill="#444" opacity="0.58"/><circle cx="211.2" cy="162.0" r="0.73" fill="#444" opacity="0.52"/><circle cx="217.9" cy="176.0" r="0.72" fill="#444" opacity="0.68"/><circle cx="221.4" cy="182.2" r="0.97" fill="#444" opacity="0.59"/><circle cx="226.3" cy="162.6" r="0.68" fill="#444" opacity="0.54"/><circle cx="209.1" cy="157.1" r="0.66" fill="#444" opacity="0.78"/><circle cx="215.7" cy="185.0" r="0.56" fill="#444" opacity="0.39"/><circle cx="258.6" cy="162.3" r="0.55" fill="#444" opacity="0.54"/><circle cx="274.4" cy="165.3" r="0.66" fill="#444" opacity="0.80"/><circle cx="251.7" cy="151.6" r="0.59" fill="#444" opacity="0.61"/><circle cx="280.0" cy="159.4" r="0.67" fill="#444" opacity="0.80"/><circle cx="253.8" cy="154.1" r="0.66" fill="#444" opacity="0.37"/><circle cx="269.4" cy="159.4" r="0.69" fill="#444" opacity="0.73"/><circle cx="245.1" cy="158.7" r="0.60" fill="#444" opacity="0.68"/><circle cx="284.9" cy="155.5" r="0.86" fill="#444" opacity="0.79"/><circle cx="251.8" cy="160.8" r="0.56" fill="#444" opacity="0.83"/><circle cx="238.3" cy="156.9" r="0.65" fill="#444" opacity="0.77"/><circle cx="274.2" cy="150.8" r="0.79" fill="#444" opacity="0.84"/><circle cx="279.0" cy="152.8" r="0.58" fill="#444" opacity="0.49"/><circle cx="258.7" cy="155.1" r="0.84" fill="#444" opacity="0.42"/><circle cx="234.1" cy="166.1" r="0.78" fill="#444" opacity="0.75"/><circle cx="282.2" cy="162.5" r="0.72" fill="#444" opacity="0.77"/><circle cx="243.6" cy="166.1" r="0.63" fill="#444" opacity="0.60"/><circle cx="254.7" cy="165.2" r="0.77" fill="#444" opacity="0.62"/><circle cx="270.8" cy="160.6" r="0.94" fill="#444" opacity="0.71"/><circle cx="239.6" cy="154.8" r="0.69" fill="#444" opacity="0.47"/><circle cx="270.2" cy="150.8" r="0.89" fill="#444" opacity="0.41"/><circle cx="238.2" cy="151.0" r="0.72" fill="#444" opacity="0.67"/><circle cx="237.5" cy="150.6" r="0.88" fill="#444" opacity="0.58"/><circle cx="257.8" cy="152.2" r="0.69" fill="#444" opacity="0.69"/><circle cx="279.2" cy="150.0" r="0.81" fill="#444" opacity="0.72"/><circle cx="257.0" cy="156.1" r="0.74" fill="#444" opacity="0.36"/><circle cx="239.9" cy="162.8" r="0.87" fill="#444" opacity="0.48"/><circle cx="262.8" cy="160.3" r="0.89" fill="#444" opacity="0.49"/><circle cx="262.9" cy="160.4" r="0.60" fill="#444" opacity="0.60"/><circle cx="256.3" cy="161.2" r="0.72" fill="#444" opacity="0.72"/><circle cx="277.4" cy="150.1" r="0.68" fill="#444" opacity="0.66"/><circle cx="272.0" cy="162.9" r="0.91" fill="#444" opacity="0.57"/><circle cx="243.0" cy="153.2" r="0.66" fill="#444" opacity="0.49"/><circle cx="234.3" cy="153.0" r="0.87" fill="#444" opacity="0.81"/><circle cx="246.3" cy="162.3" r="0.88" fill="#444" opacity="0.81"/><circle cx="269.5" cy="159.8" r="0.80" fill="#444" opacity="0.63"/><circle cx="258.1" cy="152.9" r="0.90" fill="#444" opacity="0.43"/><circle cx="251.9" cy="156.3" r="0.74" fill="#444" opacity="0.52"/><circle cx="242.6" cy="151.3" r="0.61" fill="#444" opacity="0.39"/><circle cx="237.6" cy="162.1" r="0.63" fill="#444" opacity="0.46"/><circle cx="275.6" cy="154.9" r="0.61" fill="#444" opacity="0.58"/><circle cx="279.6" cy="160.9" r="0.96" fill="#444" opacity="0.73"/><circle cx="257.7" cy="159.3" r="0.92" fill="#444" opacity="0.81"/><circle cx="237.2" cy="161.6" r="0.67" fill="#444" opacity="0.67"/><circle cx="232.3" cy="153.8" r="0.84" fill="#444" opacity="0.72"/><circle cx="244.2" cy="160.8" r="0.78" fill="#444" opacity="0.78"/><circle cx="255.7" cy="184.9" r="0.88" fill="#555" opacity="0.39"/><circle cx="264.2" cy="185.6" r="0.79" fill="#555" opacity="0.47"/><circle cx="247.5" cy="193.2" r="0.66" fill="#555" opacity="0.45"/><circle cx="251.3" cy="178.7" r="0.66" fill="#555" opacity="0.49"/><circle cx="263.3" cy="179.6" r="0.65" fill="#555" opacity="0.63"/><circle cx="275.4" cy="188.5" r="0.68" fill="#555" opacity="0.44"/><circle cx="253.1" cy="179.8" r="0.72" fill="#555" opacity="0.59"/><circle cx="278.0" cy="180.5" r="0.72" fill="#555" opacity="0.41"/><circle cx="249.8" cy="178.7" r="0.55" fill="#555" opacity="0.67"/><circle cx="259.3" cy="186.6" r="0.89" fill="#555" opacity="0.47"/><circle cx="243.3" cy="192.7" r="0.82" fill="#555" opacity="0.54"/><circle cx="251.1" cy="180.9" r="0.67" fill="#555" opacity="0.55"/><circle cx="264.0" cy="192.3" r="0.65" fill="#555" opacity="0.62"/><circle cx="240.9" cy="179.6" r="0.66" fill="#555" opacity="0.62"/><circle cx="259.6" cy="182.2" r="0.72" fill="#555" opacity="0.49"/><circle cx="279.0" cy="183.0" r="0.93" fill="#555" opacity="0.68"/><circle cx="273.5" cy="188.1" r="0.70" fill="#555" opacity="0.37"/><circle cx="233.9" cy="178.8" r="0.79" fill="#555" opacity="0.48"/><circle cx="248.2" cy="179.4" r="0.68" fill="#555" opacity="0.44"/><circle cx="250.2" cy="179.6" r="0.93" fill="#555" opacity="0.47"/><circle cx="313.7" cy="172.8" r="0.92" fill="#333" opacity="0.51"/><circle cx="309.7" cy="164.4" r="0.88" fill="#333" opacity="0.80"/><circle cx="311.6" cy="170.7" r="0.53" fill="#333" opacity="0.53"/><circle cx="318.1" cy="157.3" r="0.86" fill="#333" opacity="0.64"/><circle cx="310.5" cy="166.5" r="0.78" fill="#333" opacity="0.72"/><circle cx="319.9" cy="167.1" r="0.81" fill="#333" opacity="0.73"/><circle cx="300.7" cy="164.3" r="0.78" fill="#333" opacity="0.40"/><circle cx="290.4" cy="184.2" r="0.57" fill="#333" opacity="0.78"/><circle cx="290.7" cy="181.0" r="0.53" fill="#333" opacity="0.59"/><circle cx="317.8" cy="180.4" r="0.79" fill="#333" opacity="0.84"/><circle cx="291.3" cy="162.7" r="0.97" fill="#333" opacity="0.62"/><circle cx="287.1" cy="161.8" r="0.89" fill="#333" opacity="0.35"/><circle cx="298.4" cy="164.1" r="0.54" fill="#333" opacity="0.44"/><circle cx="315.2" cy="182.4" r="0.86" fill="#333" opacity="0.59"/><circle cx="299.6" cy="165.8" r="0.56" fill="#333" opacity="0.73"/><circle cx="306.8" cy="164.2" r="0.71" fill="#333" opacity="0.80"/><circle cx="286.6" cy="189.2" r="0.63" fill="#333" opacity="0.43"/><circle cx="287.8" cy="186.9" r="0.84" fill="#333" opacity="0.71"/><circle cx="286.1" cy="152.4" r="0.55" fill="#333" opacity="0.71"/><circle cx="317.4" cy="188.9" r="0.66" fill="#333" opacity="0.58"/><circle cx="319.6" cy="160.9" r="0.96" fill="#333" opacity="0.38"/><circle cx="320.4" cy="187.8" r="0.96" fill="#333" opacity="0.37"/><circle cx="293.4" cy="191.5" r="0.54" fill="#333" opacity="0.69"/><circle cx="294.4" cy="190.4" r="0.61" fill="#333" opacity="0.48"/><circle cx="290.8" cy="170.5" r="0.89" fill="#333" opacity="0.74"/><circle cx="294.0" cy="180.8" r="0.56" fill="#333" opacity="0.70"/><circle cx="316.1" cy="167.0" r="0.67" fill="#333" opacity="0.71"/><circle cx="290.9" cy="154.7" r="0.87" fill="#333" opacity="0.79"/><circle cx="290.8" cy="166.0" r="0.77" fill="#333" opacity="0.60"/><circle cx="296.3" cy="178.8" r="0.66" fill="#333" opacity="0.53"/><circle cx="310.1" cy="171.3" r="0.81" fill="#333" opacity="0.84"/><circle cx="302.0" cy="154.2" r="0.72" fill="#333" opacity="0.46"/><circle cx="286.6" cy="170.4" r="0.88" fill="#333" opacity="0.36"/><circle cx="298.0" cy="150.8" r="0.62" fill="#333" opacity="0.68"/><circle cx="313.4" cy="193.0" r="0.79" fill="#333" opacity="0.41"/><circle cx="292.7" cy="150.7" r="0.87" fill="#333" opacity="0.58"/><circle cx="294.9" cy="178.4" r="0.76" fill="#333" opacity="0.53"/><circle cx="305.9" cy="183.2" r="0.57" fill="#333" opacity="0.37"/><circle cx="321.3" cy="188.0" r="0.72" fill="#333" opacity="0.44"/><circle cx="292.5" cy="171.3" r="0.69" fill="#333" opacity="0.41"/><circle cx="297.7" cy="180.3" r="0.88" fill="#333" opacity="0.62"/><circle cx="296.1" cy="189.5" r="0.92" fill="#333" opacity="0.70"/><circle cx="298.4" cy="184.0" r="0.65" fill="#333" opacity="0.79"/><circle cx="303.1" cy="180.3" r="0.99" fill="#333" opacity="0.55"/><circle cx="294.0" cy="179.3" r="0.58" fill="#333" opacity="0.76"/><circle cx="305.5" cy="191.0" r="0.84" fill="#333" opacity="0.38"/><circle cx="312.7" cy="188.1" r="0.96" fill="#333" opacity="0.66"/><circle cx="314.2" cy="188.6" r="0.85" fill="#333" opacity="0.62"/><circle cx="300.8" cy="180.5" r="1.03" fill="#333" opacity="0.50"/><circle cx="295.2" cy="178.0" r="0.71" fill="#333" opacity="0.57"/><circle cx="311.1" cy="190.5" r="0.87" fill="#333" opacity="0.72"/><circle cx="297.0" cy="190.3" r="0.95" fill="#333" opacity="0.67"/><circle cx="287.2" cy="192.2" r="0.61" fill="#333" opacity="0.41"/><circle cx="316.6" cy="191.4" r="0.65" fill="#333" opacity="0.79"/><circle cx="304.6" cy="182.6" r="0.91" fill="#333" opacity="0.71"/><circle cx="319.2" cy="191.0" r="0.77" fill="#333" opacity="0.58"/><circle cx="310.4" cy="192.3" r="0.76" fill="#333" opacity="0.72"/><circle cx="304.8" cy="180.5" r="0.78" fill="#333" opacity="0.51"/><circle cx="293.4" cy="175.6" r="0.67" fill="#333" opacity="0.42"/><circle cx="305.9" cy="192.1" r="0.62" fill="#333" opacity="0.38"/><circle cx="311.8" cy="189.4" r="0.62" fill="#333" opacity="0.72"/><circle cx="318.9" cy="185.3" r="1.02" fill="#333" opacity="0.80"/><circle cx="319.9" cy="183.1" r="0.94" fill="#333" opacity="0.64"/><circle cx="317.5" cy="184.1" r="0.86" fill="#333" opacity="0.36"/><circle cx="295.0" cy="180.5" r="1.02" fill="#333" opacity="0.77"/><circle cx="311.4" cy="174.2" r="0.62" fill="#333" opacity="0.83"/><circle cx="299.4" cy="190.1" r="0.57" fill="#333" opacity="0.75"/><circle cx="286.7" cy="185.4" r="0.89" fill="#333" opacity="0.80"/><circle cx="312.7" cy="192.0" r="0.88" fill="#333" opacity="0.59"/><circle cx="313.8" cy="188.3" r="0.89" fill="#333" opacity="0.63"/><circle cx="300.0" cy="179.8" r="0.97" fill="#333" opacity="0.37"/><circle cx="314.0" cy="178.4" r="0.78" fill="#333" opacity="0.67"/><circle cx="308.8" cy="182.4" r="0.85" fill="#333" opacity="0.80"/><circle cx="305.6" cy="183.5" r="0.65" fill="#333" opacity="0.47"/><circle cx="315.0" cy="192.8" r="0.82" fill="#333" opacity="0.36"/><circle cx="315.1" cy="187.8" r="0.69" fill="#333" opacity="0.64"/><circle cx="307.4" cy="179.0" r="0.77" fill="#333" opacity="0.46"/><circle cx="315.4" cy="183.5" r="0.94" fill="#333" opacity="0.36"/><circle cx="314.6" cy="175.6" r="0.57" fill="#333" opacity="0.42"/><circle cx="307.4" cy="183.8" r="0.74" fill="#333" opacity="0.70"/><circle cx="294.5" cy="184.6" r="0.87" fill="#333" opacity="0.57"/><circle cx="304.1" cy="174.1" r="0.88" fill="#333" opacity="0.68"/><circle cx="289.6" cy="190.3" r="0.89" fill="#333" opacity="0.73"/><circle cx="293.6" cy="193.3" r="0.90" fill="#333" opacity="0.48"/><circle cx="285.7" cy="183.4" r="0.77" fill="#333" opacity="0.56"/><circle cx="337.7" cy="178.2" r="0.80" fill="#555" opacity="0.76"/><circle cx="331.4" cy="169.5" r="0.55" fill="#555" opacity="0.53"/><circle cx="322.4" cy="190.9" r="0.55" fill="#555" opacity="0.47"/><circle cx="334.4" cy="159.0" r="0.70" fill="#555" opacity="0.75"/><circle cx="331.1" cy="162.7" r="0.72" fill="#555" opacity="0.37"/><circle cx="329.6" cy="190.6" r="0.67" fill="#555" opacity="0.39"/><circle cx="323.7" cy="153.2" r="0.89" fill="#555" opacity="0.46"/><circle cx="332.2" cy="191.8" r="0.59" fill="#555" opacity="0.75"/><circle cx="324.1" cy="159.2" r="0.72" fill="#555" opacity="0.65"/><circle cx="336.3" cy="166.0" r="0.69" fill="#555" opacity="0.81"/><circle cx="337.7" cy="183.8" r="0.74" fill="#555" opacity="0.59"/><circle cx="341.5" cy="176.2" r="0.96" fill="#555" opacity="0.71"/><circle cx="336.8" cy="191.4" r="0.59" fill="#555" opacity="0.67"/><circle cx="340.2" cy="192.3" r="0.84" fill="#555" opacity="0.64"/><circle cx="342.5" cy="183.4" r="0.75" fill="#555" opacity="0.47"/><circle cx="371.3" cy="161.0" r="0.66" fill="#444" opacity="0.75"/><circle cx="353.9" cy="150.7" r="0.92" fill="#444" opacity="0.72"/><circle cx="385.5" cy="152.0" r="0.84" fill="#444" opacity="0.56"/><circle cx="370.2" cy="156.3" r="0.92" fill="#444" opacity="0.77"/><circle cx="348.1" cy="158.3" r="0.73" fill="#444" opacity="0.40"/><circle cx="356.7" cy="159.2" r="0.60" fill="#444" opacity="0.54"/><circle cx="359.6" cy="160.0" r="0.66" fill="#444" opacity="0.54"/><circle cx="363.4" cy="156.8" r="0.55" fill="#444" opacity="0.79"/><circle cx="374.0" cy="158.3" r="0.67" fill="#444" opacity="0.48"/><circle cx="359.6" cy="161.4" r="0.58" fill="#444" opacity="0.65"/><circle cx="345.8" cy="156.6" r="0.63" fill="#444" opacity="0.63"/><circle cx="383.3" cy="161.5" r="0.94" fill="#444" opacity="0.45"/><circle cx="384.0" cy="155.8" r="0.56" fill="#444" opacity="0.74"/><circle cx="349.1" cy="159.2" r="0.60" fill="#444" opacity="0.64"/><circle cx="356.4" cy="152.7" r="0.63" fill="#444" opacity="0.58"/><circle cx="381.5" cy="158.7" r="0.53" fill="#444" opacity="0.53"/><circle cx="357.1" cy="160.0" r="0.72" fill="#444" opacity="0.62"/><circle cx="376.5" cy="151.8" r="0.67" fill="#444" opacity="0.51"/><circle cx="381.6" cy="157.7" r="0.76" fill="#444" opacity="0.71"/><circle cx="374.9" cy="159.9" r="0.86" fill="#444" opacity="0.53"/></g></g>
<g filter="url(#bl1)" fill="none" stroke-linecap="round"><path d="M196 171.9 L219 171.8" stroke="#606060" stroke-width="2.2"/><path d="M183 171.9 L196 171.85" stroke="#3c3c3c" stroke-width="3"/><path d="M235 171.8 C250 171.6 262 171.7 271 171.7" stroke="#000" stroke-width="6" stroke-linecap="round"/><path d="M288.5 170.3 C300 170 312 170.1 323 170.1" stroke="#111" stroke-width="4.4"/><path d="M341.5 169.2 C355 168.9 366 168.9 376 169" stroke="#000" stroke-width="8" stroke-linecap="round"/></g>
<rect x="170.4" y="200.4" width="217" height="39.2" fill="url(#glo)"/>
<g filter="url(#bl0)" fill="none" stroke-linecap="round"><path d="M177.5 223.9 C190 223.5 204 223 214.5 222.6" stroke="#505050" stroke-width="2.8"/><path d="M231.5 221.1 C245 220.8 258 220.4 269.5 219.7" stroke="#444" stroke-width="3.9"/><path d="M285.5 219.4 C298 218.8 311 218 322 217.3" stroke="#4c4c4c" stroke-width="3.1"/><path d="M338 215.9 C350 215 363 214 374 212.9" stroke="#484848" stroke-width="3.4"/></g>
<text x="6.88" y="283" font-size="13.45" font-weight="bold" fill="#000" textLength="8.97" lengthAdjust="spacingAndGlyphs">E</text>
<text x="73.79" y="284" font-size="13.22" font-weight="bold" fill="#000" textLength="20.58" lengthAdjust="spacingAndGlyphs">6hr</text>
<text x="175.04" y="284.25" font-size="13.67" font-weight="bold" fill="#000" textLength="28.87" lengthAdjust="spacingAndGlyphs">48hr</text>
<text x="274.72" y="284.25" font-size="12.97" font-weight="bold" fill="#000" textLength="34.60" lengthAdjust="spacingAndGlyphs">120hr</text>
<text transform="translate(28.9 341.50) rotate(-90)" x="0" y="0" font-size="9.35" font-weight="normal" fill="#1c1c1c" stroke="#1c1c1c" stroke-width="0.3" textLength="16.11" lengthAdjust="spacingAndGlyphs">MFI</text>
<text transform="translate(28.2 429.71) rotate(-90)" x="0" y="0" font-size="9.55" font-weight="normal" fill="#1c1c1c" stroke="#1c1c1c" stroke-width="0.3" textLength="16.44" lengthAdjust="spacingAndGlyphs">MFI</text>
<text transform="translate(28.9 520.13) rotate(-90)" x="0" y="0" font-size="9.81" font-weight="normal" fill="#1c1c1c" stroke="#1c1c1c" stroke-width="0.3" textLength="16.88" lengthAdjust="spacingAndGlyphs">MFI</text>
<path d="M36.0 359.38 L36.5 358.87 L37.0 358.32 L37.5 357.72 L38.0 357.07 L38.5 356.35 L39.0 355.54 L39.5 354.64 L40.0 353.63 L40.5 352.52 L41.0 351.32 L41.5 350.02 L42.0 348.60 L42.5 347.04 L43.0 345.33 L43.5 343.47 L44.0 341.44 L44.5 339.27 L45.0 336.97 L45.5 334.56 L46.0 332.05 L46.5 329.44 L47.0 326.69 L47.5 323.72 L48.0 320.60 L48.5 317.71 L49.0 315.55 L49.5 314.39 L50.0 314.07 L50.5 314.16 L51.0 314.38 L51.5 314.78 L52.0 315.65 L52.5 317.07 L53.0 319.06 L53.5 321.55 L54.0 324.45 L54.5 327.66 L55.0 331.08 L55.5 334.60 L56.0 338.12 L56.5 341.55 L57.0 344.82 L57.5 347.87 L58.0 350.65 L58.5 353.14 L59.0 355.33 L59.5 357.22 L60.0 358.83 L60.5 360.17 L61.0 361.27 L61.5 362.16 L62.0 362.86 L62.5 363.41 L63.0 363.84 L63.5 364.16 L64.0 364.40 L64.5 364.58 L65.0 364.71 L65.5 364.80 L66.0 364.87 L66.5 364.91 L67.0 364.94 L67.5 364.96 L68.0 364.98 L68.5 364.98 L69.0 364.99 L69.5 364.99 L70.0 365.00 L70.5 365.00 L71.0 365.00 L71.5 365.00 L72.0 365.00 L72.5 365.00 L73.0 365.00 L73.5 365.00 L74.0 365.00 L74.5 365.00 L75.0 365.00 L75.5 365.00 L76.0 365.00 L76.5 365.00 L77.0 365.00 L77.5 365.00 L78.0 365.00 L78.5 365.00 L79.0 365.00 L79.5 365.00 L80.0 365.00 L80.5 365.00 L81.0 365.00 L81.5 365.00 L82.0 365.00 L82.5 365.00 L83.0 365.00 L83.5 365.00 L84.0 365.00 L84.5 365.00 L85.0 365.00 L85.5 365.00 L86.0 365.00 L86.5 365.00 L87.0 365.00 L87.5 365.00 L88.0 365.00 L88.5 365.00 L89.0 365.00 L89.5 365.00 L90.0 365.00 L90.5 365.00 L91.0 365.00 L91.5 365.00 L92.0 365.00 L92.5 365.00 L93.0 365.00 L93.5 365.00 L94.0 365.00 L94.5 365.00 L95.0 365.00 L95.5 365.00 L96.0 365.00 L96.5 365.00 L97.0 365.00 L97.5 365.00 L98.0 365.00 L98.5 365.00 L99.0 365.00 L99.5 365.00 L100.0 365.00 L100.5 365.00 L101.0 365.00 L101.5 365.00 L102.0 365.00 L102.5 365.00 L103.0 365.00 L103.5 365.00 L104.0 365.00 L104.5 365.00 L105.0 365.00 L105.5 365.00 L106.0 365.00 L106.5 365.00 L107.0 365.00 L107.5 365.00 L108.0 365.00 L108.5 365.00 L109.0 365.00 L109.5 365.00 L110.0 365.00 L110.5 365.00 L111.0 365.00 L111.5 365.00 L112.0 365.00 L112.5 365.00 L113.0 365.00 L113.5 365.00 L114.0 365.00 L114.5 365.00 L115.0 365.00 L115.5 365.00 L116.0 365.00 L116.5 365.00 L117.0 365.00 L117.5 365.00 L118.0 365.00 L118.5 365.00 L119.0 365.00 L119.5 365.00 L120.0 365.00 L120.5 365.00 L121.0 365.00 L121.5 365.00 L122.0 365.00 L122.5 365.00 L123.0 365.00 L123.5 365.00 L124.0 365.00 L124.5 365.00 L125.0 365.00 L125.5 365.00 L126.0 365.00 L126.5 365.00 L127.0 365.00 L127.5 365.00 L128.0 365.00 L128.5 365.00 L129.0 365.00 L129.5 365.00 L130.0 365.00 L130.5 365.00 L131.0 365.00 L131.5 365.00 L131.9 365.0 L36.0 365.0 Z" fill="#999" stroke="#333" stroke-width="0.8" stroke-linejoin="round"/>
<path d="M36.0 361.00 L36.5 360.76 L37.0 360.52 L37.5 360.28 L38.0 360.04 L38.5 359.79 L39.0 359.54 L39.5 359.29 L40.0 359.04 L40.5 358.80 L41.0 358.55 L41.5 358.31 L42.0 358.07 L42.5 357.84 L43.0 357.61 L43.5 357.39 L44.0 357.17 L44.5 356.96 L45.0 356.75 L45.5 356.53 L46.0 356.32 L46.5 356.10 L47.0 355.87 L47.5 355.63 L48.0 355.36 L48.5 355.06 L49.0 354.72 L49.5 354.32 L50.0 353.86 L50.5 353.33 L51.0 352.72 L51.5 352.02 L52.0 351.20 L52.5 350.25 L53.0 349.16 L53.5 347.91 L54.0 346.48 L54.5 344.87 L55.0 343.07 L55.5 341.08 L56.0 338.90 L56.5 336.55 L57.0 334.05 L57.5 331.41 L58.0 328.67 L58.5 325.88 L59.0 323.08 L59.5 320.31 L60.0 317.63 L60.5 315.11 L61.0 312.79 L61.5 310.74 L62.0 309.00 L62.5 307.61 L63.0 306.63 L63.5 306.08 L64.0 305.97 L64.5 306.56 L65.0 308.32 L65.5 311.17 L66.0 314.94 L66.5 319.42 L67.0 324.37 L67.5 329.55 L68.0 334.71 L68.5 339.67 L69.0 344.25 L69.5 348.36 L70.0 351.94 L70.5 354.95 L71.0 357.43 L71.5 359.41 L72.0 360.96 L72.5 362.13 L73.0 363.00 L73.5 363.63 L74.0 364.08 L74.5 364.39 L75.0 364.60 L75.5 364.74 L76.0 364.83 L76.5 364.89 L77.0 364.93 L77.5 364.95 L78.0 364.97 L78.5 364.98 L79.0 364.98 L79.5 364.99 L80.0 364.99 L80.5 364.99 L81.0 364.99 L81.5 365.00 L82.0 365.00 L82.5 365.00 L83.0 365.00 L83.5 365.00 L84.0 365.00 L84.5 365.00 L85.0 365.00 L85.5 365.00 L86.0 365.00 L86.5 365.00 L87.0 365.00 L87.5 365.00 L88.0 365.00 L88.5 365.00 L89.0 365.00 L89.5 365.00 L90.0 365.00 L90.5 365.00 L91.0 365.00 L91.5 365.00 L92.0 365.00 L92.5 365.00 L93.0 365.00 L93.5 365.00 L94.0 365.00 L94.5 365.00 L95.0 365.00 L95.5 365.00 L96.0 365.00 L96.5 365.00 L97.0 365.00 L97.5 365.00 L98.0 365.00 L98.5 365.00 L99.0 365.00 L99.5 365.00 L100.0 365.00 L100.5 365.00 L101.0 365.00 L101.5 365.00 L102.0 365.00 L102.5 365.00 L103.0 365.00 L103.5 365.00 L104.0 365.00 L104.5 365.00 L105.0 365.00 L105.5 365.00 L106.0 365.00 L106.5 365.00 L107.0 365.00 L107.5 365.00 L108.0 365.00 L108.5 365.00 L109.0 365.00 L109.5 365.00 L110.0 365.00 L110.5 365.00 L111.0 365.00 L111.5 365.00 L112.0 365.00 L112.5 365.00 L113.0 365.00 L113.5 365.00 L114.0 365.00 L114.5 365.00 L115.0 365.00 L115.5 365.00 L116.0 365.00 L116.5 365.00 L117.0 365.00 L117.5 365.00 L118.0 365.00 L118.5 365.00 L119.0 365.00 L119.5 365.00 L120.0 365.00 L120.5 365.00 L121.0 365.00 L121.5 365.00 L122.0 365.00 L122.5 365.00 L123.0 365.00 L123.5 365.00 L124.0 365.00 L124.5 365.00 L125.0 365.00 L125.5 365.00 L126.0 365.00 L126.5 365.00 L127.0 365.00 L127.5 365.00 L128.0 365.00 L128.5 365.00 L129.0 365.00 L129.5 365.00 L130.0 365.00 L130.5 365.00 L131.0 365.00 L131.5 365.00" fill="none" stroke="#3c3c3c" stroke-width="0.9" stroke-linejoin="round"/>
<path d="M36.0 361.57 L36.5 361.34 L37.0 361.10 L37.5 360.86 L38.0 360.60 L38.5 360.34 L39.0 360.07 L39.5 359.79 L40.0 359.51 L40.5 359.22 L41.0 358.92 L41.5 358.63 L42.0 358.33 L42.5 358.02 L43.0 357.72 L43.5 357.42 L44.0 357.12 L44.5 356.82 L45.0 356.52 L45.5 356.23 L46.0 355.94 L46.5 355.66 L47.0 355.39 L47.5 355.12 L48.0 354.86 L48.5 354.62 L49.0 354.38 L49.5 354.15 L50.0 353.93 L50.5 353.71 L51.0 353.50 L51.5 353.29 L52.0 353.07 L52.5 352.84 L53.0 352.59 L53.5 352.31 L54.0 351.98 L54.5 351.60 L55.0 351.14 L55.5 350.61 L56.0 350.03 L56.5 349.37 L57.0 348.60 L57.5 347.69 L58.0 346.62 L58.5 345.35 L59.0 343.88 L59.5 342.17 L60.0 340.23 L60.5 338.05 L61.0 335.64 L61.5 333.04 L62.0 330.28 L62.5 327.40 L63.0 324.48 L63.5 321.57 L64.0 318.77 L64.5 316.14 L65.0 313.78 L65.5 311.77 L66.0 310.17 L66.5 309.04 L67.0 308.44 L67.5 308.40 L68.0 309.07 L68.5 310.60 L69.0 312.92 L69.5 315.93 L70.0 319.50 L70.5 323.49 L71.0 327.74 L71.5 332.09 L72.0 336.40 L72.5 340.55 L73.0 344.43 L73.5 347.98 L74.0 351.15 L74.5 353.91 L75.0 356.26 L75.5 358.23 L76.0 359.84 L76.5 361.13 L77.0 362.14 L77.5 362.93 L78.0 363.52 L78.5 363.96 L79.0 364.28 L79.5 364.51 L80.0 364.67 L80.5 364.79 L81.0 364.86 L81.5 364.91 L82.0 364.94 L82.5 364.97 L83.0 364.98 L83.5 364.99 L84.0 364.99 L84.5 365.00 L85.0 365.00 L85.5 365.00 L86.0 365.00 L86.5 365.00 L87.0 365.00 L87.5 365.00 L88.0 365.00 L88.5 365.00 L89.0 365.00 L89.5 365.00 L90.0 365.00 L90.5 365.00 L91.0 365.00 L91.5 365.00 L92.0 365.00 L92.5 365.00 L93.0 365.00 L93.5 365.00 L94.0 365.00 L94.5 365.00 L95.0 365.00 L95.5 365.00 L96.0 365.00 L96.5 365.00 L97.0 365.00 L97.5 365.00 L98.0 365.00 L98.5 365.00 L99.0 365.00 L99.5 365.00 L100.0 365.00 L100.5 365.00 L101.0 365.00 L101.5 365.00 L102.0 365.00 L102.5 365.00 L103.0 365.00 L103.5 365.00 L104.0 365.00 L104.5 365.00 L105.0 365.00 L105.5 365.00 L106.0 365.00 L106.5 365.00 L107.0 365.00 L107.5 365.00 L108.0 365.00 L108.5 365.00 L109.0 365.00 L109.5 365.00 L110.0 365.00 L110.5 365.00 L111.0 365.00 L111.5 365.00 L112.0 365.00 L112.5 365.00 L113.0 365.00 L113.5 365.00 L114.0 365.00 L114.5 365.00 L115.0 365.00 L115.5 365.00 L116.0 365.00 L116.5 365.00 L117.0 365.00 L117.5 365.00 L118.0 365.00 L118.5 365.00 L119.0 365.00 L119.5 365.00 L120.0 365.00 L120.5 365.00 L121.0 365.00 L121.5 365.00 L122.0 365.00 L122.5 365.00 L123.0 365.00 L123.5 365.00 L124.0 365.00 L124.5 365.00 L125.0 365.00 L125.5 365.00 L126.0 365.00 L126.5 365.00 L127.0 365.00 L127.5 365.00 L128.0 365.00 L128.5 365.00 L129.0 365.00 L129.5 365.00 L130.0 365.00 L130.5 365.00 L131.0 365.00 L131.5 365.00" fill="none" stroke="#1a1a1a" stroke-width="1.1" stroke-dasharray="2.2 1.6"/>
<rect x="35.5" y="301.4" width="96.9" height="64.10000000000002" fill="none" stroke="#8a8a8a" stroke-width="1"/>
<path d="M35.5 301.4 V365.5" stroke="#111" stroke-width="1.2"/>
<path d="M142.5 355.89 L143.0 355.08 L143.5 354.22 L144.0 353.29 L144.5 352.29 L145.0 351.21 L145.5 350.05 L146.0 348.79 L146.5 347.42 L147.0 345.95 L147.5 344.35 L148.0 342.64 L148.5 340.79 L149.0 338.82 L149.5 336.73 L150.0 334.51 L150.5 332.26 L151.0 330.06 L151.5 327.91 L152.0 325.81 L152.5 323.78 L153.0 321.80 L153.5 319.88 L154.0 318.02 L154.5 316.24 L155.0 314.56 L155.5 312.99 L156.0 311.56 L156.5 310.30 L157.0 309.24 L157.5 308.42 L158.0 307.86 L158.5 307.60 L159.0 307.65 L159.5 308.08 L160.0 309.02 L160.5 310.45 L161.0 312.34 L161.5 314.65 L162.0 317.33 L162.5 320.31 L163.0 323.52 L163.5 326.88 L164.0 330.32 L164.5 333.77 L165.0 337.16 L165.5 340.45 L166.0 343.57 L166.5 346.49 L167.0 349.19 L167.5 351.64 L168.0 353.84 L168.5 355.79 L169.0 357.50 L169.5 358.97 L170.0 360.22 L170.5 361.28 L171.0 362.15 L171.5 362.88 L172.0 363.46 L172.5 363.93 L173.0 364.31 L173.5 364.60 L174.0 364.83 L174.5 365.01 L175.0 365.14 L175.5 365.24 L176.0 365.31 L176.5 365.37 L177.0 365.41 L177.5 365.43 L178.0 365.46 L178.5 365.47 L179.0 365.48 L179.5 365.49 L180.0 365.49 L180.5 365.49 L181.0 365.50 L181.5 365.50 L182.0 365.50 L182.5 365.50 L183.0 365.50 L183.5 365.50 L184.0 365.50 L184.5 365.50 L185.0 365.50 L185.5 365.50 L186.0 365.50 L186.5 365.50 L187.0 365.50 L187.5 365.50 L188.0 365.50 L188.5 365.50 L189.0 365.50 L189.5 365.50 L190.0 365.50 L190.5 365.50 L191.0 365.50 L191.5 365.50 L192.0 365.50 L192.5 365.50 L193.0 365.50 L193.5 365.50 L194.0 365.50 L194.5 365.50 L195.0 365.50 L195.5 365.50 L196.0 365.50 L196.5 365.50 L197.0 365.50 L197.5 365.50 L198.0 365.50 L198.5 365.50 L199.0 365.50 L199.5 365.50 L200.0 365.50 L200.5 365.50 L201.0 365.50 L201.5 365.50 L202.0 365.50 L202.5 365.50 L203.0 365.50 L203.5 365.50 L204.0 365.50 L204.5 365.50 L205.0 365.50 L205.5 365.50 L206.0 365.50 L206.5 365.50 L207.0 365.50 L207.5 365.50 L208.0 365.50 L208.5 365.50 L209.0 365.50 L209.5 365.50 L210.0 365.50 L210.5 365.50 L211.0 365.50 L211.5 365.50 L212.0 365.50 L212.5 365.50 L213.0 365.50 L213.5 365.50 L214.0 365.50 L214.5 365.50 L215.0 365.50 L215.5 365.50 L216.0 365.50 L216.5 365.50 L217.0 365.50 L217.5 365.50 L218.0 365.50 L218.5 365.50 L219.0 365.50 L219.5 365.50 L220.0 365.50 L220.5 365.50 L221.0 365.50 L221.5 365.50 L222.0 365.50 L222.5 365.50 L223.0 365.50 L223.5 365.50 L224.0 365.50 L224.5 365.50 L225.0 365.50 L225.5 365.50 L226.0 365.50 L226.5 365.50 L227.0 365.50 L227.5 365.50 L228.0 365.50 L228.5 365.50 L229.0 365.50 L229.5 365.50 L230.0 365.50 L230.5 365.50 L231.0 365.50 L231.5 365.50 L232.0 365.50 L232.5 365.50 L233.0 365.50 L233.5 365.50 L234.0 365.50 L234.5 365.50 L235.0 365.50 L235.0 365.5 L142.5 365.5 Z" fill="#999" stroke="#333" stroke-width="0.8" stroke-linejoin="round"/>
<path d="M142.5 363.78 L143.0 363.60 L143.5 363.39 L144.0 363.18 L144.5 362.94 L145.0 362.69 L145.5 362.42 L146.0 362.12 L146.5 361.81 L147.0 361.47 L147.5 361.11 L148.0 360.72 L148.5 360.31 L149.0 359.86 L149.5 359.39 L150.0 358.88 L150.5 358.33 L151.0 357.75 L151.5 357.13 L152.0 356.46 L152.5 355.75 L153.0 355.00 L153.5 354.19 L154.0 353.32 L154.5 352.40 L155.0 351.42 L155.5 350.38 L156.0 349.27 L156.5 348.10 L157.0 346.87 L157.5 345.56 L158.0 344.19 L158.5 342.76 L159.0 341.30 L159.5 339.79 L160.0 338.25 L160.5 336.68 L161.0 335.07 L161.5 333.44 L162.0 331.77 L162.5 330.09 L163.0 328.39 L163.5 326.68 L164.0 324.98 L164.5 323.28 L165.0 321.60 L165.5 319.95 L166.0 318.34 L166.5 316.79 L167.0 315.31 L167.5 313.92 L168.0 312.62 L168.5 311.43 L169.0 310.37 L169.5 309.45 L170.0 308.68 L170.5 308.07 L171.0 307.63 L171.5 307.36 L172.0 307.28 L172.5 307.51 L173.0 308.56 L173.5 310.45 L174.0 313.09 L174.5 316.37 L175.0 320.15 L175.5 324.29 L176.0 328.63 L176.5 333.02 L177.0 337.33 L177.5 341.45 L178.0 345.28 L178.5 348.77 L179.0 351.86 L179.5 354.56 L180.0 356.86 L180.5 358.78 L181.0 360.36 L181.5 361.62 L182.0 362.62 L182.5 363.40 L183.0 363.99 L183.5 364.43 L184.0 364.75 L184.5 364.99 L185.0 365.15 L185.5 365.27 L186.0 365.35 L186.5 365.40 L187.0 365.44 L187.5 365.46 L188.0 365.48 L188.5 365.49 L189.0 365.49 L189.5 365.49 L190.0 365.50 L190.5 365.50 L191.0 365.50 L191.5 365.50 L192.0 365.50 L192.5 365.50 L193.0 365.50 L193.5 365.50 L194.0 365.50 L194.5 365.50 L195.0 365.50 L195.5 365.50 L196.0 365.50 L196.5 365.50 L197.0 365.50 L197.5 365.50 L198.0 365.50 L198.5 365.50 L199.0 365.50 L199.5 365.50 L200.0 365.50 L200.5 365.50 L201.0 365.50 L201.5 365.50 L202.0 365.50 L202.5 365.50 L203.0 365.50 L203.5 365.50 L204.0 365.50 L204.5 365.50 L205.0 365.50 L205.5 365.50 L206.0 365.50 L206.5 365.50 L207.0 365.50 L207.5 365.50 L208.0 365.50 L208.5 365.50 L209.0 365.50 L209.5 365.50 L210.0 365.50 L210.5 365.50 L211.0 365.50 L211.5 365.50 L212.0 365.50 L212.5 365.50 L213.0 365.50 L213.5 365.50 L214.0 365.50 L214.5 365.50 L215.0 365.50 L215.5 365.50 L216.0 365.50 L216.5 365.50 L217.0 365.50 L217.5 365.50 L218.0 365.50 L218.5 365.50 L219.0 365.50 L219.5 365.50 L220.0 365.50 L220.5 365.50 L221.0 365.50 L221.5 365.50 L222.0 365.50 L222.5 365.50 L223.0 365.50 L223.5 365.50 L224.0 365.50 L224.5 365.50 L225.0 365.50 L225.5 365.50 L226.0 365.50 L226.5 365.50 L227.0 365.50 L227.5 365.50 L228.0 365.50 L228.5 365.50 L229.0 365.50 L229.5 365.50 L230.0 365.50 L230.5 365.50 L231.0 365.50 L231.5 365.50 L232.0 365.50 L232.5 365.50 L233.0 365.50 L233.5 365.50 L234.0 365.50 L234.5 365.50 L235.0 365.50" fill="none" stroke="#3c3c3c" stroke-width="0.9" stroke-linejoin="round"/>
<path d="M142.5 365.13 L143.0 365.08 L143.5 365.02 L144.0 364.96 L144.5 364.90 L145.0 364.82 L145.5 364.74 L146.0 364.66 L146.5 364.57 L147.0 364.47 L147.5 364.36 L148.0 364.25 L148.5 364.13 L149.0 364.01 L149.5 363.88 L150.0 363.74 L150.5 363.59 L151.0 363.44 L151.5 363.28 L152.0 363.12 L152.5 362.95 L153.0 362.78 L153.5 362.61 L154.0 362.43 L154.5 362.25 L155.0 362.06 L155.5 361.88 L156.0 361.68 L156.5 361.48 L157.0 361.28 L157.5 361.06 L158.0 360.84 L158.5 360.60 L159.0 360.34 L159.5 360.05 L160.0 359.74 L160.5 359.39 L161.0 358.99 L161.5 358.53 L162.0 358.01 L162.5 357.41 L163.0 356.72 L163.5 355.94 L164.0 355.06 L164.5 354.06 L165.0 352.95 L165.5 351.69 L166.0 350.29 L166.5 348.73 L167.0 347.00 L167.5 345.10 L168.0 343.04 L168.5 340.81 L169.0 338.43 L169.5 335.92 L170.0 333.28 L170.5 330.56 L171.0 327.79 L171.5 324.99 L172.0 322.22 L172.5 319.51 L173.0 316.92 L173.5 314.48 L174.0 312.25 L174.5 310.28 L175.0 308.59 L175.5 307.23 L176.0 306.23 L176.5 305.62 L177.0 305.40 L177.5 305.62 L178.0 306.35 L178.5 307.59 L179.0 309.29 L179.5 311.43 L180.0 313.94 L180.5 316.76 L181.0 319.84 L181.5 323.10 L182.0 326.47 L182.5 329.90 L183.0 333.31 L183.5 336.65 L184.0 339.87 L184.5 342.94 L185.0 345.81 L185.5 348.47 L186.0 350.90 L186.5 353.09 L187.0 355.05 L187.5 356.78 L188.0 358.29 L188.5 359.58 L189.0 360.69 L189.5 361.63 L190.0 362.41 L190.5 363.05 L191.0 363.58 L191.5 364.01 L192.0 364.35 L192.5 364.62 L193.0 364.84 L193.5 365.00 L194.0 365.13 L194.5 365.23 L195.0 365.30 L195.5 365.36 L196.0 365.40 L196.5 365.43 L197.0 365.45 L197.5 365.46 L198.0 365.47 L198.5 365.48 L199.0 365.49 L199.5 365.49 L200.0 365.49 L200.5 365.50 L201.0 365.50 L201.5 365.50 L202.0 365.50 L202.5 365.50 L203.0 365.50 L203.5 365.50 L204.0 365.50 L204.5 365.50 L205.0 365.50 L205.5 365.50 L206.0 365.50 L206.5 365.50 L207.0 365.50 L207.5 365.50 L208.0 365.50 L208.5 365.50 L209.0 365.50 L209.5 365.50 L210.0 365.50 L210.5 365.50 L211.0 365.50 L211.5 365.50 L212.0 365.50 L212.5 365.50 L213.0 365.50 L213.5 365.50 L214.0 365.50 L214.5 365.50 L215.0 365.50 L215.5 365.50 L216.0 365.50 L216.5 365.50 L217.0 365.50 L217.5 365.50 L218.0 365.50 L218.5 365.50 L219.0 365.50 L219.5 365.50 L220.0 365.50 L220.5 365.50 L221.0 365.50 L221.5 365.50 L222.0 365.50 L222.5 365.50 L223.0 365.50 L223.5 365.50 L224.0 365.50 L224.5 365.50 L225.0 365.50 L225.5 365.50 L226.0 365.50 L226.5 365.50 L227.0 365.50 L227.5 365.50 L228.0 365.50 L228.5 365.50 L229.0 365.50 L229.5 365.50 L230.0 365.50 L230.5 365.50 L231.0 365.50 L231.5 365.50 L232.0 365.50 L232.5 365.50 L233.0 365.50 L233.5 365.50 L234.0 365.50 L234.5 365.50 L235.0 365.50" fill="none" stroke="#1a1a1a" stroke-width="1.1" stroke-dasharray="2.2 1.6"/>
<rect x="142" y="301.5" width="93.5" height="64.5" fill="none" stroke="#8a8a8a" stroke-width="1"/>
<path d="M142 301.5 V366" stroke="#111" stroke-width="1.2"/>
<path d="M35.8 450.60 L36.3 450.60 L36.8 450.60 L37.3 450.60 L37.8 450.60 L38.3 450.60 L38.8 450.60 L39.3 450.60 L39.8 450.60 L40.3 450.60 L40.8 450.60 L41.3 450.60 L41.8 450.60 L42.3 450.60 L42.8 450.60 L43.3 450.60 L43.8 450.60 L44.3 450.60 L44.8 450.60 L45.3 450.60 L45.8 450.59 L46.3 450.59 L46.8 450.59 L47.3 450.59 L47.8 450.58 L48.3 450.58 L48.8 450.57 L49.3 450.56 L49.8 450.55 L50.3 450.54 L50.8 450.52 L51.3 450.50 L51.8 450.47 L52.3 450.44 L52.8 450.40 L53.3 450.35 L53.8 450.30 L54.3 450.23 L54.8 450.15 L55.3 450.06 L55.8 449.96 L56.3 449.84 L56.8 449.70 L57.3 449.54 L57.8 449.35 L58.3 449.13 L58.8 448.87 L59.3 448.56 L59.8 448.18 L60.3 447.72 L60.8 447.16 L61.3 446.47 L61.8 445.62 L62.3 444.58 L62.8 443.32 L63.3 441.76 L63.8 439.85 L64.3 437.45 L64.8 434.42 L65.3 430.57 L65.8 425.75 L66.3 419.92 L66.8 413.29 L67.3 406.38 L67.8 400.01 L68.3 395.15 L68.8 392.69 L69.3 393.17 L69.8 396.80 L70.3 402.88 L70.8 410.28 L71.3 417.88 L71.8 424.83 L72.3 430.67 L72.8 435.34 L73.3 438.95 L73.8 441.72 L74.3 443.86 L74.8 445.52 L75.3 446.80 L75.8 447.79 L76.3 448.55 L76.8 449.11 L77.3 449.53 L77.8 449.84 L78.3 450.06 L78.8 450.21 L79.3 450.33 L79.8 450.41 L80.3 450.46 L80.8 450.50 L81.3 450.53 L81.8 450.55 L82.3 450.57 L82.8 450.58 L83.3 450.58 L83.8 450.59 L84.3 450.59 L84.8 450.60 L85.3 450.60 L85.8 450.60 L86.3 450.60 L86.8 450.60 L87.3 450.60 L87.8 450.60 L88.3 450.60 L88.8 450.60 L89.3 450.60 L89.8 450.60 L90.3 450.60 L90.8 450.60 L91.3 450.60 L91.8 450.60 L92.3 450.60 L92.8 450.60 L93.3 450.60 L93.8 450.60 L94.3 450.60 L94.8 450.60 L95.3 450.60 L95.8 450.60 L96.3 450.60 L96.8 450.60 L97.3 450.60 L97.8 450.60 L98.3 450.60 L98.8 450.60 L99.3 450.60 L99.8 450.60 L100.3 450.60 L100.8 450.60 L101.3 450.60 L101.8 450.60 L102.3 450.60 L102.8 450.60 L103.3 450.60 L103.8 450.60 L104.3 450.60 L104.8 450.60 L105.3 450.60 L105.8 450.60 L106.3 450.60 L106.8 450.60 L107.3 450.60 L107.8 450.60 L108.3 450.60 L108.8 450.60 L109.3 450.60 L109.8 450.60 L110.3 450.60 L110.8 450.60 L111.3 450.60 L111.8 450.60 L112.3 450.60 L112.8 450.60 L113.3 450.60 L113.8 450.60 L114.3 450.60 L114.8 450.60 L115.3 450.60 L115.8 450.60 L116.3 450.60 L116.8 450.60 L117.3 450.60 L117.8 450.60 L118.3 450.60 L118.8 450.60 L119.3 450.60 L119.8 450.60 L120.3 450.60 L120.8 450.60 L121.3 450.60 L121.8 450.60 L122.3 450.60 L122.8 450.60 L123.3 450.60 L123.8 450.60 L124.3 450.60 L124.8 450.60 L125.3 450.60 L125.8 450.60 L126.3 450.60 L126.8 450.60 L127.3 450.60 L127.8 450.60 L128.3 450.60 L128.8 450.60 L129.3 450.60 L129.8 450.60 L130.3 450.60 L130.8 450.60 L131.1 450.6 L35.8 450.6 Z" fill="#7a7a7a" stroke="#333" stroke-width="0.8" stroke-linejoin="round"/>
<path d="M35.8 450.60 L36.3 450.60 L36.8 450.60 L37.3 450.60 L37.8 450.60 L38.3 450.60 L38.8 450.60 L39.3 450.60 L39.8 450.60 L40.3 450.60 L40.8 450.60 L41.3 450.60 L41.8 450.60 L42.3 450.60 L42.8 450.60 L43.3 450.60 L43.8 450.60 L44.3 450.60 L44.8 450.60 L45.3 450.60 L45.8 450.60 L46.3 450.60 L46.8 450.60 L47.3 450.60 L47.8 450.60 L48.3 450.60 L48.8 450.60 L49.3 450.60 L49.8 450.60 L50.3 450.60 L50.8 450.60 L51.3 450.60 L51.8 450.60 L52.3 450.60 L52.8 450.60 L53.3 450.60 L53.8 450.60 L54.3 450.60 L54.8 450.60 L55.3 450.60 L55.8 450.60 L56.3 450.60 L56.8 450.60 L57.3 450.60 L57.8 450.60 L58.3 450.60 L58.8 450.60 L59.3 450.60 L59.8 450.60 L60.3 450.60 L60.8 450.60 L61.3 450.60 L61.8 450.60 L62.3 450.59 L62.8 450.59 L63.3 450.59 L63.8 450.59 L64.3 450.58 L64.8 450.58 L65.3 450.57 L65.8 450.57 L66.3 450.56 L66.8 450.55 L67.3 450.54 L67.8 450.52 L68.3 450.51 L68.8 450.49 L69.3 450.46 L69.8 450.44 L70.3 450.40 L70.8 450.37 L71.3 450.33 L71.8 450.28 L72.3 450.22 L72.8 450.16 L73.3 450.09 L73.8 450.01 L74.3 449.92 L74.8 449.82 L75.3 449.71 L75.8 449.58 L76.3 449.44 L76.8 449.27 L77.3 449.08 L77.8 448.85 L78.3 448.56 L78.8 448.21 L79.3 447.76 L79.8 447.20 L80.3 446.49 L80.8 445.60 L81.3 444.49 L81.8 443.11 L82.3 441.39 L82.8 439.23 L83.3 436.46 L83.8 432.87 L84.3 428.25 L84.8 422.47 L85.3 415.66 L85.8 408.32 L86.3 401.36 L86.8 395.92 L87.3 393.06 L87.8 393.39 L88.3 396.85 L88.8 402.70 L89.3 409.84 L89.8 417.16 L90.3 423.82 L90.8 429.40 L91.3 433.84 L91.8 437.29 L92.3 439.96 L92.8 442.06 L93.3 443.74 L93.8 445.09 L94.3 446.18 L94.8 447.06 L95.3 447.75 L95.8 448.30 L96.3 448.73 L96.8 449.07 L97.3 449.34 L97.8 449.56 L98.3 449.73 L98.8 449.88 L99.3 450.00 L99.8 450.10 L100.3 450.18 L100.8 450.25 L101.3 450.31 L101.8 450.37 L102.3 450.41 L102.8 450.44 L103.3 450.48 L103.8 450.50 L104.3 450.52 L104.8 450.54 L105.3 450.55 L105.8 450.56 L106.3 450.57 L106.8 450.58 L107.3 450.58 L107.8 450.59 L108.3 450.59 L108.8 450.59 L109.3 450.59 L109.8 450.60 L110.3 450.60 L110.8 450.60 L111.3 450.60 L111.8 450.60 L112.3 450.60 L112.8 450.60 L113.3 450.60 L113.8 450.60 L114.3 450.60 L114.8 450.60 L115.3 450.60 L115.8 450.60 L116.3 450.60 L116.8 450.60 L117.3 450.60 L117.8 450.60 L118.3 450.60 L118.8 450.60 L119.3 450.60 L119.8 450.60 L120.3 450.60 L120.8 450.60 L121.3 450.60 L121.8 450.60 L122.3 450.60 L122.8 450.60 L123.3 450.60 L123.8 450.60 L124.3 450.60 L124.8 450.60 L125.3 450.60 L125.8 450.60 L126.3 450.60 L126.8 450.60 L127.3 450.60 L127.8 450.60 L128.3 450.60 L128.8 450.60 L129.3 450.60 L129.8 450.60 L130.3 450.60 L130.8 450.60" fill="none" stroke="#3c3c3c" stroke-width="0.9" stroke-linejoin="round"/>
<path d="M35.8 450.60 L36.3 450.60 L36.8 450.60 L37.3 450.60 L37.8 450.60 L38.3 450.60 L38.8 450.60 L39.3 450.60 L39.8 450.60 L40.3 450.60 L40.8 450.60 L41.3 450.60 L41.8 450.60 L42.3 450.60 L42.8 450.60 L43.3 450.60 L43.8 450.60 L44.3 450.60 L44.8 450.60 L45.3 450.60 L45.8 450.60 L46.3 450.60 L46.8 450.60 L47.3 450.60 L47.8 450.60 L48.3 450.60 L48.8 450.60 L49.3 450.60 L49.8 450.60 L50.3 450.60 L50.8 450.60 L51.3 450.60 L51.8 450.60 L52.3 450.60 L52.8 450.60 L53.3 450.60 L53.8 450.60 L54.3 450.60 L54.8 450.60 L55.3 450.60 L55.8 450.60 L56.3 450.60 L56.8 450.60 L57.3 450.60 L57.8 450.60 L58.3 450.60 L58.8 450.60 L59.3 450.60 L59.8 450.60 L60.3 450.60 L60.8 450.60 L61.3 450.60 L61.8 450.60 L62.3 450.60 L62.8 450.59 L63.3 450.59 L63.8 450.59 L64.3 450.59 L64.8 450.58 L65.3 450.58 L65.8 450.57 L66.3 450.57 L66.8 450.56 L67.3 450.55 L67.8 450.54 L68.3 450.52 L68.8 450.51 L69.3 450.49 L69.8 450.46 L70.3 450.44 L70.8 450.40 L71.3 450.37 L71.8 450.33 L72.3 450.28 L72.8 450.22 L73.3 450.16 L73.8 450.09 L74.3 450.01 L74.8 449.92 L75.3 449.82 L75.8 449.70 L76.3 449.57 L76.8 449.42 L77.3 449.24 L77.8 449.03 L78.3 448.78 L78.8 448.46 L79.3 448.07 L79.8 447.58 L80.3 446.97 L80.8 446.20 L81.3 445.24 L81.8 444.05 L82.3 442.57 L82.8 440.72 L83.3 438.39 L83.8 435.40 L84.3 431.58 L84.8 426.76 L85.3 420.92 L85.8 414.25 L86.3 407.28 L86.8 400.84 L87.3 395.90 L87.8 393.34 L88.3 393.62 L88.8 396.70 L89.3 401.97 L89.8 408.55 L90.3 415.46 L90.8 421.95 L91.3 427.56 L91.8 432.15 L92.3 435.80 L92.8 438.67 L93.3 440.95 L93.8 442.78 L94.3 444.27 L94.8 445.49 L95.3 446.49 L95.8 447.30 L96.3 447.94 L96.8 448.46 L97.3 448.87 L97.8 449.20 L98.3 449.46 L98.8 449.67 L99.3 449.83 L99.8 449.97 L100.3 450.08 L100.8 450.17 L101.3 450.25 L101.8 450.31 L102.3 450.36 L102.8 450.41 L103.3 450.44 L103.8 450.47 L104.3 450.50 L104.8 450.52 L105.3 450.54 L105.8 450.55 L106.3 450.56 L106.8 450.57 L107.3 450.58 L107.8 450.58 L108.3 450.59 L108.8 450.59 L109.3 450.59 L109.8 450.59 L110.3 450.60 L110.8 450.60 L111.3 450.60 L111.8 450.60 L112.3 450.60 L112.8 450.60 L113.3 450.60 L113.8 450.60 L114.3 450.60 L114.8 450.60 L115.3 450.60 L115.8 450.60 L116.3 450.60 L116.8 450.60 L117.3 450.60 L117.8 450.60 L118.3 450.60 L118.8 450.60 L119.3 450.60 L119.8 450.60 L120.3 450.60 L120.8 450.60 L121.3 450.60 L121.8 450.60 L122.3 450.60 L122.8 450.60 L123.3 450.60 L123.8 450.60 L124.3 450.60 L124.8 450.60 L125.3 450.60 L125.8 450.60 L126.3 450.60 L126.8 450.60 L127.3 450.60 L127.8 450.60 L128.3 450.60 L128.8 450.60 L129.3 450.60 L129.8 450.60 L130.3 450.60 L130.8 450.60" fill="none" stroke="#1a1a1a" stroke-width="1.1" stroke-dasharray="2.2 1.6"/>
<rect x="35.3" y="386.7" width="96.3" height="64.40000000000003" fill="none" stroke="#8a8a8a" stroke-width="1"/>
<path d="M140.8 450.80 L141.3 450.80 L141.8 450.80 L142.3 450.80 L142.8 450.80 L143.3 450.80 L143.8 450.80 L144.3 450.80 L144.8 450.80 L145.3 450.80 L145.8 450.80 L146.3 450.80 L146.8 450.80 L147.3 450.80 L147.8 450.80 L148.3 450.80 L148.8 450.79 L149.3 450.79 L149.8 450.79 L150.3 450.79 L150.8 450.78 L151.3 450.78 L151.8 450.77 L152.3 450.76 L152.8 450.75 L153.3 450.74 L153.8 450.72 L154.3 450.70 L154.8 450.67 L155.3 450.64 L155.8 450.60 L156.3 450.55 L156.8 450.50 L157.3 450.43 L157.8 450.35 L158.3 450.26 L158.8 450.16 L159.3 450.04 L159.8 449.89 L160.3 449.73 L160.8 449.53 L161.3 449.30 L161.8 449.01 L162.3 448.67 L162.8 448.24 L163.3 447.71 L163.8 447.05 L164.3 446.24 L164.8 445.23 L165.3 443.99 L165.8 442.46 L166.3 440.58 L166.8 438.22 L167.3 435.20 L167.8 431.30 L168.3 426.32 L168.8 420.15 L169.3 413.00 L169.8 405.47 L170.3 398.56 L170.8 393.45 L171.3 391.16 L171.8 392.21 L172.3 396.38 L172.8 402.81 L173.3 410.34 L173.8 417.84 L174.3 424.55 L174.8 430.12 L175.3 434.52 L175.8 437.95 L176.3 440.62 L176.8 442.74 L177.3 444.44 L177.8 445.81 L178.3 446.92 L178.8 447.80 L179.3 448.49 L179.8 449.04 L180.3 449.45 L180.8 449.77 L181.3 450.02 L181.8 450.20 L182.3 450.34 L182.8 450.45 L183.3 450.54 L183.8 450.60 L184.3 450.65 L184.8 450.69 L185.3 450.71 L185.8 450.74 L186.3 450.75 L186.8 450.77 L187.3 450.78 L187.8 450.78 L188.3 450.79 L188.8 450.79 L189.3 450.79 L189.8 450.80 L190.3 450.80 L190.8 450.80 L191.3 450.80 L191.8 450.80 L192.3 450.80 L192.8 450.80 L193.3 450.80 L193.8 450.80 L194.3 450.80 L194.8 450.80 L195.3 450.80 L195.8 450.80 L196.3 450.80 L196.8 450.80 L197.3 450.80 L197.8 450.80 L198.3 450.80 L198.8 450.80 L199.3 450.80 L199.8 450.80 L200.3 450.80 L200.8 450.80 L201.3 450.80 L201.8 450.80 L202.3 450.80 L202.8 450.80 L203.3 450.80 L203.8 450.80 L204.3 450.80 L204.8 450.80 L205.3 450.80 L205.8 450.80 L206.3 450.80 L206.8 450.80 L207.3 450.80 L207.8 450.80 L208.3 450.80 L208.8 450.80 L209.3 450.80 L209.8 450.80 L210.3 450.80 L210.8 450.80 L211.3 450.80 L211.8 450.80 L212.3 450.80 L212.8 450.80 L213.3 450.80 L213.8 450.80 L214.3 450.80 L214.8 450.80 L215.3 450.80 L215.8 450.80 L216.3 450.80 L216.8 450.80 L217.3 450.80 L217.8 450.80 L218.3 450.80 L218.8 450.80 L219.3 450.80 L219.8 450.80 L220.3 450.80 L220.8 450.80 L221.3 450.80 L221.8 450.80 L222.3 450.80 L222.8 450.80 L223.3 450.80 L223.8 450.80 L224.3 450.80 L224.8 450.80 L225.3 450.80 L225.8 450.80 L226.3 450.80 L226.8 450.80 L227.3 450.80 L227.8 450.80 L228.3 450.80 L228.8 450.80 L229.3 450.80 L229.8 450.80 L230.3 450.80 L230.8 450.80 L231.3 450.80 L231.8 450.80 L232.3 450.80 L232.8 450.80 L233.3 450.80 L233.8 450.80 L234.3 450.80 L234.8 450.80 L235.3 450.80 L235.8 450.80 L235.9 450.8 L140.8 450.8 Z" fill="#7a7a7a" stroke="#333" stroke-width="0.8" stroke-linejoin="round"/>
<path d="M140.8 450.80 L141.3 450.80 L141.8 450.80 L142.3 450.80 L142.8 450.80 L143.3 450.80 L143.8 450.80 L144.3 450.80 L144.8 450.80 L145.3 450.80 L145.8 450.80 L146.3 450.80 L146.8 450.80 L147.3 450.80 L147.8 450.80 L148.3 450.80 L148.8 450.80 L149.3 450.80 L149.8 450.80 L150.3 450.80 L150.8 450.80 L151.3 450.80 L151.8 450.80 L152.3 450.80 L152.8 450.80 L153.3 450.80 L153.8 450.80 L154.3 450.80 L154.8 450.80 L155.3 450.80 L155.8 450.80 L156.3 450.80 L156.8 450.80 L157.3 450.80 L157.8 450.80 L158.3 450.80 L158.8 450.80 L159.3 450.80 L159.8 450.80 L160.3 450.80 L160.8 450.80 L161.3 450.80 L161.8 450.80 L162.3 450.80 L162.8 450.80 L163.3 450.80 L163.8 450.80 L164.3 450.80 L164.8 450.80 L165.3 450.80 L165.8 450.80 L166.3 450.80 L166.8 450.80 L167.3 450.80 L167.8 450.80 L168.3 450.80 L168.8 450.80 L169.3 450.80 L169.8 450.80 L170.3 450.80 L170.8 450.80 L171.3 450.80 L171.8 450.80 L172.3 450.80 L172.8 450.80 L173.3 450.80 L173.8 450.80 L174.3 450.80 L174.8 450.80 L175.3 450.80 L175.8 450.80 L176.3 450.80 L176.8 450.79 L177.3 450.79 L177.8 450.79 L178.3 450.79 L178.8 450.78 L179.3 450.78 L179.8 450.77 L180.3 450.76 L180.8 450.75 L181.3 450.73 L181.8 450.72 L182.3 450.70 L182.8 450.67 L183.3 450.64 L183.8 450.60 L184.3 450.56 L184.8 450.50 L185.3 450.44 L185.8 450.37 L186.3 450.29 L186.8 450.19 L187.3 450.08 L187.8 449.95 L188.3 449.79 L188.8 449.60 L189.3 449.37 L189.8 449.07 L190.3 448.70 L190.8 448.23 L191.3 447.62 L191.8 446.83 L192.3 445.84 L192.8 444.57 L193.3 442.98 L193.8 440.96 L194.3 438.33 L194.8 434.88 L195.3 430.30 L195.8 424.37 L196.3 417.11 L196.8 409.00 L197.3 401.06 L197.8 394.70 L198.3 391.31 L198.8 391.70 L199.3 395.73 L199.8 402.45 L200.3 410.44 L200.8 418.35 L201.3 425.27 L201.8 430.85 L202.3 435.13 L202.8 438.39 L203.3 440.89 L203.8 442.85 L204.3 444.42 L204.8 445.69 L205.3 446.71 L205.8 447.52 L206.3 448.15 L206.8 448.65 L207.3 449.04 L207.8 449.35 L208.3 449.60 L208.8 449.80 L209.3 449.96 L209.8 450.09 L210.3 450.21 L210.8 450.30 L211.3 450.38 L211.8 450.45 L212.3 450.51 L212.8 450.57 L213.3 450.61 L213.8 450.64 L214.3 450.68 L214.8 450.70 L215.3 450.72 L215.8 450.74 L216.3 450.75 L216.8 450.76 L217.3 450.77 L217.8 450.78 L218.3 450.78 L218.8 450.79 L219.3 450.79 L219.8 450.79 L220.3 450.79 L220.8 450.80 L221.3 450.80 L221.8 450.80 L222.3 450.80 L222.8 450.80 L223.3 450.80 L223.8 450.80 L224.3 450.80 L224.8 450.80 L225.3 450.80 L225.8 450.80 L226.3 450.80 L226.8 450.80 L227.3 450.80 L227.8 450.80 L228.3 450.80 L228.8 450.80 L229.3 450.80 L229.8 450.80 L230.3 450.80 L230.8 450.80 L231.3 450.80 L231.8 450.80 L232.3 450.80 L232.8 450.80 L233.3 450.80 L233.8 450.80 L234.3 450.80 L234.8 450.80 L235.3 450.80 L235.8 450.80" fill="none" stroke="#3c3c3c" stroke-width="0.9" stroke-linejoin="round"/>
<path d="M140.8 450.80 L141.3 450.80 L141.8 450.80 L142.3 450.80 L142.8 450.80 L143.3 450.80 L143.8 450.80 L144.3 450.80 L144.8 450.80 L145.3 450.80 L145.8 450.80 L146.3 450.80 L146.8 450.80 L147.3 450.80 L147.8 450.80 L148.3 450.80 L148.8 450.80 L149.3 450.80 L149.8 450.80 L150.3 450.80 L150.8 450.80 L151.3 450.80 L151.8 450.80 L152.3 450.80 L152.8 450.80 L153.3 450.80 L153.8 450.80 L154.3 450.80 L154.8 450.80 L155.3 450.80 L155.8 450.80 L156.3 450.80 L156.8 450.80 L157.3 450.80 L157.8 450.80 L158.3 450.80 L158.8 450.80 L159.3 450.80 L159.8 450.80 L160.3 450.80 L160.8 450.80 L161.3 450.80 L161.8 450.80 L162.3 450.80 L162.8 450.80 L163.3 450.80 L163.8 450.80 L164.3 450.80 L164.8 450.80 L165.3 450.80 L165.8 450.80 L166.3 450.80 L166.8 450.80 L167.3 450.80 L167.8 450.80 L168.3 450.80 L168.8 450.80 L169.3 450.80 L169.8 450.80 L170.3 450.80 L170.8 450.80 L171.3 450.80 L171.8 450.80 L172.3 450.80 L172.8 450.80 L173.3 450.80 L173.8 450.80 L174.3 450.80 L174.8 450.80 L175.3 450.80 L175.8 450.80 L176.3 450.80 L176.8 450.80 L177.3 450.80 L177.8 450.80 L178.3 450.80 L178.8 450.80 L179.3 450.79 L179.8 450.79 L180.3 450.79 L180.8 450.79 L181.3 450.78 L181.8 450.78 L182.3 450.77 L182.8 450.76 L183.3 450.75 L183.8 450.74 L184.3 450.72 L184.8 450.70 L185.3 450.68 L185.8 450.65 L186.3 450.62 L186.8 450.58 L187.3 450.53 L187.8 450.47 L188.3 450.40 L188.8 450.32 L189.3 450.23 L189.8 450.12 L190.3 449.99 L190.8 449.83 L191.3 449.64 L191.8 449.41 L192.3 449.11 L192.8 448.74 L193.3 448.26 L193.8 447.65 L194.3 446.88 L194.8 445.90 L195.3 444.66 L195.8 443.09 L196.3 441.10 L196.8 438.54 L197.3 435.19 L197.8 430.83 L198.3 425.27 L198.8 418.51 L199.3 410.93 L199.8 403.32 L200.3 396.81 L200.8 392.60 L201.3 391.56 L201.8 393.68 L202.3 398.43 L202.8 404.95 L203.3 412.21 L203.8 419.30 L204.3 425.59 L204.8 430.82 L205.3 434.98 L205.8 438.22 L206.3 440.75 L206.8 442.74 L207.3 444.32 L207.8 445.60 L208.3 446.63 L208.8 447.45 L209.3 448.11 L209.8 448.63 L210.3 449.04 L210.8 449.37 L211.3 449.63 L211.8 449.83 L212.3 450.00 L212.8 450.14 L213.3 450.25 L213.8 450.34 L214.3 450.42 L214.8 450.49 L215.3 450.54 L215.8 450.59 L216.3 450.63 L216.8 450.66 L217.3 450.69 L217.8 450.71 L218.3 450.73 L218.8 450.75 L219.3 450.76 L219.8 450.77 L220.3 450.77 L220.8 450.78 L221.3 450.79 L221.8 450.79 L222.3 450.79 L222.8 450.79 L223.3 450.80 L223.8 450.80 L224.3 450.80 L224.8 450.80 L225.3 450.80 L225.8 450.80 L226.3 450.80 L226.8 450.80 L227.3 450.80 L227.8 450.80 L228.3 450.80 L228.8 450.80 L229.3 450.80 L229.8 450.80 L230.3 450.80 L230.8 450.80 L231.3 450.80 L231.8 450.80 L232.3 450.80 L232.8 450.80 L233.3 450.80 L233.8 450.80 L234.3 450.80 L234.8 450.80 L235.3 450.80 L235.8 450.80" fill="none" stroke="#1a1a1a" stroke-width="1.1" stroke-dasharray="2.2 1.6"/>
<rect x="140.3" y="386.8" width="96.1" height="64.5" fill="none" stroke="#8a8a8a" stroke-width="1"/>
<path d="M245.9 451.80 L246.4 451.80 L246.9 451.80 L247.4 451.80 L247.9 451.80 L248.4 451.80 L248.9 451.80 L249.4 451.80 L249.9 451.80 L250.4 451.80 L250.9 451.80 L251.4 451.80 L251.9 451.80 L252.4 451.80 L252.9 451.80 L253.4 451.80 L253.9 451.80 L254.4 451.80 L254.9 451.80 L255.4 451.80 L255.9 451.79 L256.4 451.79 L256.9 451.79 L257.4 451.79 L257.9 451.78 L258.4 451.78 L258.9 451.77 L259.4 451.76 L259.9 451.75 L260.4 451.73 L260.9 451.71 L261.4 451.69 L261.9 451.66 L262.4 451.63 L262.9 451.59 L263.4 451.54 L263.9 451.48 L264.4 451.42 L264.9 451.34 L265.4 451.25 L265.9 451.14 L266.4 451.02 L266.9 450.89 L267.4 450.73 L267.9 450.55 L268.4 450.34 L268.9 450.10 L269.4 449.81 L269.9 449.46 L270.4 449.03 L270.9 448.50 L271.4 447.83 L271.9 447.00 L272.4 445.96 L272.9 444.67 L273.4 443.10 L273.9 441.16 L274.4 438.75 L274.9 435.65 L275.4 431.57 L275.9 426.22 L276.4 419.47 L276.9 411.66 L277.4 403.76 L277.9 397.29 L278.4 393.81 L278.9 394.27 L279.4 398.58 L279.9 405.59 L280.4 413.72 L280.9 421.50 L281.4 428.11 L281.9 433.31 L282.4 437.28 L282.9 440.32 L283.4 442.71 L283.9 444.63 L284.4 446.18 L284.9 447.44 L285.4 448.44 L285.9 449.23 L286.4 449.83 L286.9 450.30 L287.4 450.65 L287.9 450.92 L288.4 451.12 L288.9 451.27 L289.4 451.39 L289.9 451.49 L290.4 451.56 L290.9 451.62 L291.4 451.66 L291.9 451.69 L292.4 451.72 L292.9 451.74 L293.4 451.76 L293.9 451.77 L294.4 451.78 L294.9 451.78 L295.4 451.79 L295.9 451.79 L296.4 451.79 L296.9 451.80 L297.4 451.80 L297.9 451.80 L298.4 451.80 L298.9 451.80 L299.4 451.80 L299.9 451.80 L300.4 451.80 L300.9 451.80 L301.4 451.80 L301.9 451.80 L302.4 451.80 L302.9 451.80 L303.4 451.80 L303.9 451.80 L304.4 451.80 L304.9 451.80 L305.4 451.80 L305.9 451.80 L306.4 451.80 L306.9 451.80 L307.4 451.80 L307.9 451.80 L308.4 451.80 L308.9 451.80 L309.4 451.80 L309.9 451.80 L310.4 451.80 L310.9 451.80 L311.4 451.80 L311.9 451.80 L312.4 451.80 L312.9 451.80 L313.4 451.80 L313.9 451.80 L314.4 451.80 L314.9 451.80 L315.4 451.80 L315.9 451.80 L316.4 451.80 L316.9 451.80 L317.4 451.80 L317.9 451.80 L318.4 451.80 L318.9 451.80 L319.4 451.80 L319.9 451.80 L320.4 451.80 L320.9 451.80 L321.4 451.80 L321.9 451.80 L322.4 451.80 L322.9 451.80 L323.4 451.80 L323.9 451.80 L324.4 451.80 L324.9 451.80 L325.4 451.80 L325.9 451.80 L326.4 451.80 L326.9 451.80 L327.4 451.80 L327.9 451.80 L328.4 451.80 L328.9 451.80 L329.4 451.80 L329.9 451.80 L330.4 451.80 L330.9 451.80 L331.4 451.80 L331.9 451.80 L332.4 451.80 L332.9 451.80 L333.4 451.80 L333.9 451.80 L334.4 451.80 L334.9 451.80 L335.4 451.80 L335.9 451.80 L336.4 451.80 L336.9 451.80 L337.4 451.80 L337.9 451.80 L338.4 451.80 L338.9 451.80 L339.4 451.80 L339.6 451.8 L245.9 451.8 Z" fill="#666" stroke="#333" stroke-width="0.8" stroke-linejoin="round"/>
<path d="M245.9 451.80 L246.4 451.80 L246.9 451.80 L247.4 451.80 L247.9 451.80 L248.4 451.80 L248.9 451.80 L249.4 451.80 L249.9 451.80 L250.4 451.80 L250.9 451.80 L251.4 451.80 L251.9 451.80 L252.4 451.80 L252.9 451.80 L253.4 451.80 L253.9 451.80 L254.4 451.80 L254.9 451.80 L255.4 451.80 L255.9 451.80 L256.4 451.80 L256.9 451.80 L257.4 451.80 L257.9 451.80 L258.4 451.80 L258.9 451.80 L259.4 451.80 L259.9 451.80 L260.4 451.80 L260.9 451.80 L261.4 451.80 L261.9 451.80 L262.4 451.80 L262.9 451.80 L263.4 451.80 L263.9 451.80 L264.4 451.80 L264.9 451.80 L265.4 451.80 L265.9 451.80 L266.4 451.80 L266.9 451.80 L267.4 451.80 L267.9 451.80 L268.4 451.80 L268.9 451.80 L269.4 451.80 L269.9 451.80 L270.4 451.80 L270.9 451.80 L271.4 451.80 L271.9 451.80 L272.4 451.80 L272.9 451.80 L273.4 451.80 L273.9 451.80 L274.4 451.80 L274.9 451.79 L275.4 451.79 L275.9 451.79 L276.4 451.78 L276.9 451.78 L277.4 451.77 L277.9 451.77 L278.4 451.76 L278.9 451.74 L279.4 451.73 L279.9 451.71 L280.4 451.69 L280.9 451.66 L281.4 451.62 L281.9 451.58 L282.4 451.54 L282.9 451.48 L283.4 451.42 L283.9 451.34 L284.4 451.25 L284.9 451.15 L285.4 451.03 L285.9 450.89 L286.4 450.72 L286.9 450.51 L287.4 450.26 L287.9 449.94 L288.4 449.53 L288.9 449.00 L289.4 448.33 L289.9 447.46 L290.4 446.37 L290.9 444.98 L291.4 443.24 L291.9 441.00 L292.4 438.10 L292.9 434.26 L293.4 429.22 L293.9 422.82 L294.4 415.25 L294.9 407.18 L295.4 399.82 L295.9 394.59 L296.4 392.70 L296.9 394.58 L297.4 399.74 L297.9 407.02 L298.4 415.00 L298.9 422.47 L299.4 428.79 L299.9 433.77 L300.4 437.57 L300.9 440.48 L301.4 442.73 L301.9 444.52 L302.4 445.96 L302.9 447.12 L303.4 448.05 L303.9 448.79 L304.4 449.37 L304.9 449.82 L305.4 450.18 L305.9 450.46 L306.4 450.68 L306.9 450.86 L307.4 451.01 L307.9 451.14 L308.4 451.25 L308.9 451.34 L309.4 451.41 L309.9 451.48 L310.4 451.54 L310.9 451.58 L311.4 451.62 L311.9 451.66 L312.4 451.69 L312.9 451.71 L313.4 451.73 L313.9 451.74 L314.4 451.76 L314.9 451.77 L315.4 451.77 L315.9 451.78 L316.4 451.78 L316.9 451.79 L317.4 451.79 L317.9 451.79 L318.4 451.80 L318.9 451.80 L319.4 451.80 L319.9 451.80 L320.4 451.80 L320.9 451.80 L321.4 451.80 L321.9 451.80 L322.4 451.80 L322.9 451.80 L323.4 451.80 L323.9 451.80 L324.4 451.80 L324.9 451.80 L325.4 451.80 L325.9 451.80 L326.4 451.80 L326.9 451.80 L327.4 451.80 L327.9 451.80 L328.4 451.80 L328.9 451.80 L329.4 451.80 L329.9 451.80 L330.4 451.80 L330.9 451.80 L331.4 451.80 L331.9 451.80 L332.4 451.80 L332.9 451.80 L333.4 451.80 L333.9 451.80 L334.4 451.80 L334.9 451.80 L335.4 451.80 L335.9 451.80 L336.4 451.80 L336.9 451.80 L337.4 451.80 L337.9 451.80 L338.4 451.80 L338.9 451.80 L339.4 451.80" fill="none" stroke="#3c3c3c" stroke-width="0.9" stroke-linejoin="round"/>
<path d="M245.9 451.80 L246.4 451.80 L246.9 451.80 L247.4 451.80 L247.9 451.80 L248.4 451.80 L248.9 451.80 L249.4 451.80 L249.9 451.80 L250.4 451.80 L250.9 451.80 L251.4 451.80 L251.9 451.80 L252.4 451.80 L252.9 451.80 L253.4 451.80 L253.9 451.80 L254.4 451.80 L254.9 451.80 L255.4 451.80 L255.9 451.80 L256.4 451.80 L256.9 451.80 L257.4 451.80 L257.9 451.80 L258.4 451.80 L258.9 451.80 L259.4 451.80 L259.9 451.80 L260.4 451.80 L260.9 451.80 L261.4 451.80 L261.9 451.80 L262.4 451.80 L262.9 451.80 L263.4 451.80 L263.9 451.80 L264.4 451.80 L264.9 451.80 L265.4 451.80 L265.9 451.80 L266.4 451.80 L266.9 451.80 L267.4 451.80 L267.9 451.80 L268.4 451.80 L268.9 451.80 L269.4 451.80 L269.9 451.80 L270.4 451.80 L270.9 451.80 L271.4 451.80 L271.9 451.80 L272.4 451.80 L272.9 451.80 L273.4 451.80 L273.9 451.80 L274.4 451.80 L274.9 451.80 L275.4 451.80 L275.9 451.80 L276.4 451.80 L276.9 451.80 L277.4 451.80 L277.9 451.80 L278.4 451.80 L278.9 451.80 L279.4 451.80 L279.9 451.79 L280.4 451.79 L280.9 451.79 L281.4 451.79 L281.9 451.78 L282.4 451.77 L282.9 451.77 L283.4 451.76 L283.9 451.75 L284.4 451.73 L284.9 451.71 L285.4 451.69 L285.9 451.66 L286.4 451.63 L286.9 451.59 L287.4 451.54 L287.9 451.49 L288.4 451.42 L288.9 451.34 L289.4 451.24 L289.9 451.12 L290.4 450.97 L290.9 450.79 L291.4 450.56 L291.9 450.28 L292.4 449.92 L292.9 449.47 L293.4 448.90 L293.9 448.19 L294.4 447.30 L294.9 446.19 L295.4 444.82 L295.9 443.11 L296.4 440.96 L296.9 438.23 L297.4 434.74 L297.9 430.35 L298.4 424.96 L298.9 418.64 L299.4 411.72 L299.9 404.82 L300.4 398.74 L300.9 394.38 L301.4 392.46 L301.9 393.29 L302.4 396.75 L302.9 402.24 L303.4 408.92 L303.9 415.92 L304.4 422.53 L304.9 428.31 L305.4 433.10 L305.9 436.93 L306.4 439.95 L306.9 442.31 L307.4 444.18 L307.9 445.68 L308.4 446.88 L308.9 447.85 L309.4 448.63 L309.9 449.26 L310.4 449.75 L310.9 450.15 L311.4 450.46 L311.9 450.70 L312.4 450.90 L312.9 451.06 L313.4 451.19 L313.9 451.30 L314.4 451.39 L314.9 451.46 L315.4 451.52 L315.9 451.57 L316.4 451.62 L316.9 451.65 L317.4 451.68 L317.9 451.70 L318.4 451.72 L318.9 451.74 L319.4 451.75 L319.9 451.76 L320.4 451.77 L320.9 451.78 L321.4 451.78 L321.9 451.79 L322.4 451.79 L322.9 451.79 L323.4 451.79 L323.9 451.80 L324.4 451.80 L324.9 451.80 L325.4 451.80 L325.9 451.80 L326.4 451.80 L326.9 451.80 L327.4 451.80 L327.9 451.80 L328.4 451.80 L328.9 451.80 L329.4 451.80 L329.9 451.80 L330.4 451.80 L330.9 451.80 L331.4 451.80 L331.9 451.80 L332.4 451.80 L332.9 451.80 L333.4 451.80 L333.9 451.80 L334.4 451.80 L334.9 451.80 L335.4 451.80 L335.9 451.80 L336.4 451.80 L336.9 451.80 L337.4 451.80 L337.9 451.80 L338.4 451.80 L338.9 451.80 L339.4 451.80" fill="none" stroke="#1a1a1a" stroke-width="1.1" stroke-dasharray="2.2 1.6"/>
<rect x="245.4" y="387.6" width="94.70000000000002" height="64.69999999999999" fill="none" stroke="#8a8a8a" stroke-width="1"/>
<path d="M35.8 535.97 L36.3 534.63 L36.8 533.11 L37.3 531.40 L37.8 529.56 L38.3 527.59 L38.8 525.56 L39.3 523.47 L39.8 521.37 L40.3 519.29 L40.8 517.30 L41.3 515.39 L41.8 513.51 L42.3 511.62 L42.8 509.66 L43.3 507.64 L43.8 505.54 L44.3 503.44 L44.8 501.39 L45.3 499.49 L45.8 497.83 L46.3 496.52 L46.8 495.63 L47.3 495.22 L47.8 495.47 L48.3 496.97 L48.8 499.64 L49.3 503.28 L49.8 507.60 L50.3 512.29 L50.8 517.03 L51.3 521.57 L51.8 525.71 L52.3 529.31 L52.8 532.32 L53.3 534.73 L53.8 536.59 L54.3 537.98 L54.8 538.98 L55.3 539.68 L55.8 540.14 L56.3 540.44 L56.8 540.63 L57.3 540.75 L57.8 540.82 L58.3 540.86 L58.8 540.88 L59.3 540.89 L59.8 540.89 L60.3 540.90 L60.8 540.90 L61.3 540.90 L61.8 540.90 L62.3 540.90 L62.8 540.90 L63.3 540.90 L63.8 540.90 L64.3 540.90 L64.8 540.90 L65.3 540.90 L65.8 540.90 L66.3 540.90 L66.8 540.90 L67.3 540.90 L67.8 540.90 L68.3 540.90 L68.8 540.90 L69.3 540.90 L69.8 540.90 L70.3 540.90 L70.8 540.90 L71.3 540.90 L71.8 540.90 L72.3 540.90 L72.8 540.90 L73.3 540.90 L73.8 540.90 L74.3 540.90 L74.8 540.90 L75.3 540.90 L75.8 540.90 L76.3 540.90 L76.8 540.90 L77.3 540.90 L77.8 540.90 L78.3 540.90 L78.8 540.90 L79.3 540.90 L79.8 540.90 L80.3 540.90 L80.8 540.90 L81.3 540.90 L81.8 540.90 L82.3 540.90 L82.8 540.90 L83.3 540.90 L83.8 540.90 L84.3 540.90 L84.8 540.90 L85.3 540.90 L85.8 540.90 L86.3 540.90 L86.8 540.90 L87.3 540.90 L87.8 540.90 L88.3 540.90 L88.8 540.90 L89.3 540.90 L89.8 540.90 L90.3 540.90 L90.8 540.90 L91.3 540.90 L91.8 540.90 L92.3 540.90 L92.8 540.90 L93.3 540.90 L93.8 540.90 L94.3 540.90 L94.8 540.90 L95.3 540.90 L95.8 540.90 L96.3 540.90 L96.8 540.90 L97.3 540.90 L97.8 540.90 L98.3 540.90 L98.8 540.90 L99.3 540.90 L99.8 540.90 L100.3 540.90 L100.8 540.90 L101.3 540.90 L101.8 540.90 L102.3 540.90 L102.8 540.90 L103.3 540.90 L103.8 540.90 L104.3 540.90 L104.8 540.90 L105.3 540.90 L105.8 540.90 L106.3 540.90 L106.8 540.90 L107.3 540.90 L107.8 540.90 L108.3 540.90 L108.8 540.90 L109.3 540.90 L109.8 540.90 L110.3 540.90 L110.8 540.90 L111.3 540.90 L111.8 540.90 L112.3 540.90 L112.8 540.90 L113.3 540.90 L113.8 540.90 L114.3 540.90 L114.8 540.90 L115.3 540.90 L115.8 540.90 L116.3 540.90 L116.8 540.90 L117.3 540.90 L117.8 540.90 L118.3 540.90 L118.8 540.90 L119.3 540.90 L119.8 540.90 L120.3 540.90 L120.8 540.90 L121.3 540.90 L121.8 540.90 L122.3 540.90 L122.8 540.90 L123.3 540.90 L123.8 540.90 L124.3 540.90 L124.8 540.90 L125.3 540.90 L125.8 540.90 L126.3 540.90 L126.8 540.90 L127.3 540.90 L127.8 540.90 L128.3 540.90 L128.8 540.90 L129.3 540.90 L129.8 540.90 L130.3 540.90 L130.8 540.90 L131.3 540.90 L131.8 540.90 L132.3 540.90 L132.8 540.90 L133.0 540.9 L35.8 540.9 Z" fill="#8e8e8e" stroke="#333" stroke-width="0.8" stroke-linejoin="round"/>
<path d="M35.8 539.35 L36.3 539.24 L36.8 539.13 L37.3 539.01 L37.8 538.90 L38.3 538.79 L38.8 538.68 L39.3 538.57 L39.8 538.47 L40.3 538.37 L40.8 538.27 L41.3 538.18 L41.8 538.10 L42.3 538.01 L42.8 537.93 L43.3 537.86 L43.8 537.77 L44.3 537.69 L44.8 537.59 L45.3 537.48 L45.8 537.36 L46.3 537.22 L46.8 537.05 L47.3 536.86 L47.8 536.63 L48.3 536.35 L48.8 536.04 L49.3 535.68 L49.8 535.28 L50.3 534.85 L50.8 534.38 L51.3 533.90 L51.8 533.40 L52.3 532.89 L52.8 532.34 L53.3 531.73 L53.8 531.00 L54.3 530.07 L54.8 528.82 L55.3 527.13 L55.8 524.92 L56.3 522.05 L56.8 518.42 L57.3 514.00 L57.8 508.86 L58.3 503.25 L58.8 497.51 L59.3 492.13 L59.8 487.62 L60.3 484.49 L60.8 483.11 L61.3 483.61 L61.8 485.71 L62.3 489.22 L62.8 493.88 L63.3 499.35 L63.8 505.24 L64.3 511.18 L64.8 516.85 L65.3 522.00 L65.8 526.49 L66.3 530.23 L66.8 533.23 L67.3 535.55 L67.8 537.27 L68.3 538.52 L68.8 539.38 L69.3 539.96 L69.8 540.33 L70.3 540.57 L70.8 540.71 L71.3 540.80 L71.8 540.84 L72.3 540.87 L72.8 540.89 L73.3 540.89 L73.8 540.90 L74.3 540.90 L74.8 540.90 L75.3 540.90 L75.8 540.90 L76.3 540.90 L76.8 540.90 L77.3 540.90 L77.8 540.90 L78.3 540.90 L78.8 540.90 L79.3 540.90 L79.8 540.90 L80.3 540.90 L80.8 540.90 L81.3 540.90 L81.8 540.90 L82.3 540.90 L82.8 540.90 L83.3 540.90 L83.8 540.90 L84.3 540.90 L84.8 540.90 L85.3 540.90 L85.8 540.90 L86.3 540.90 L86.8 540.90 L87.3 540.90 L87.8 540.90 L88.3 540.90 L88.8 540.90 L89.3 540.90 L89.8 540.90 L90.3 540.90 L90.8 540.90 L91.3 540.90 L91.8 540.90 L92.3 540.90 L92.8 540.90 L93.3 540.90 L93.8 540.90 L94.3 540.90 L94.8 540.90 L95.3 540.90 L95.8 540.90 L96.3 540.90 L96.8 540.90 L97.3 540.90 L97.8 540.90 L98.3 540.90 L98.8 540.90 L99.3 540.90 L99.8 540.90 L100.3 540.90 L100.8 540.90 L101.3 540.90 L101.8 540.90 L102.3 540.90 L102.8 540.90 L103.3 540.90 L103.8 540.90 L104.3 540.90 L104.8 540.90 L105.3 540.90 L105.8 540.90 L106.3 540.90 L106.8 540.90 L107.3 540.90 L107.8 540.90 L108.3 540.90 L108.8 540.90 L109.3 540.90 L109.8 540.90 L110.3 540.90 L110.8 540.90 L111.3 540.90 L111.8 540.90 L112.3 540.90 L112.8 540.90 L113.3 540.90 L113.8 540.90 L114.3 540.90 L114.8 540.90 L115.3 540.90 L115.8 540.90 L116.3 540.90 L116.8 540.90 L117.3 540.90 L117.8 540.90 L118.3 540.90 L118.8 540.90 L119.3 540.90 L119.8 540.90 L120.3 540.90 L120.8 540.90 L121.3 540.90 L121.8 540.90 L122.3 540.90 L122.8 540.90 L123.3 540.90 L123.8 540.90 L124.3 540.90 L124.8 540.90 L125.3 540.90 L125.8 540.90 L126.3 540.90 L126.8 540.90 L127.3 540.90 L127.8 540.90 L128.3 540.90 L128.8 540.90 L129.3 540.90 L129.8 540.90 L130.3 540.90 L130.8 540.90 L131.3 540.90 L131.8 540.90 L132.3 540.90 L132.8 540.90" fill="none" stroke="#3c3c3c" stroke-width="0.9" stroke-linejoin="round"/>
<path d="M35.8 540.90 L36.3 540.90 L36.8 540.90 L37.3 540.90 L37.8 540.90 L38.3 540.89 L38.8 540.89 L39.3 540.89 L39.8 540.89 L40.3 540.88 L40.8 540.88 L41.3 540.87 L41.8 540.86 L42.3 540.85 L42.8 540.83 L43.3 540.82 L43.8 540.80 L44.3 540.77 L44.8 540.74 L45.3 540.70 L45.8 540.66 L46.3 540.60 L46.8 540.54 L47.3 540.47 L47.8 540.39 L48.3 540.30 L48.8 540.20 L49.3 540.08 L49.8 539.96 L50.3 539.82 L50.8 539.67 L51.3 539.50 L51.8 539.33 L52.3 539.14 L52.8 538.95 L53.3 538.75 L53.8 538.55 L54.3 538.35 L54.8 538.14 L55.3 537.94 L55.8 537.74 L56.3 537.54 L56.8 537.33 L57.3 537.11 L57.8 536.85 L58.3 536.53 L58.8 536.12 L59.3 535.55 L59.8 534.76 L60.3 533.67 L60.8 532.21 L61.3 530.29 L61.8 527.79 L62.3 524.66 L62.8 520.85 L63.3 516.39 L63.8 511.38 L64.3 505.98 L64.8 500.46 L65.3 495.13 L65.8 490.35 L66.3 486.47 L66.8 483.80 L67.3 482.56 L67.8 482.85 L68.3 484.50 L68.8 487.41 L69.3 491.37 L69.8 496.13 L70.3 501.40 L70.8 506.89 L71.3 512.31 L71.8 517.45 L72.3 522.13 L72.8 526.23 L73.3 529.72 L73.8 532.58 L74.3 534.86 L74.8 536.62 L75.3 537.94 L75.8 538.90 L76.3 539.58 L76.8 540.05 L77.3 540.37 L77.8 540.58 L78.3 540.71 L78.8 540.79 L79.3 540.84 L79.8 540.86 L80.3 540.88 L80.8 540.89 L81.3 540.89 L81.8 540.90 L82.3 540.90 L82.8 540.90 L83.3 540.90 L83.8 540.90 L84.3 540.90 L84.8 540.90 L85.3 540.90 L85.8 540.90 L86.3 540.90 L86.8 540.90 L87.3 540.90 L87.8 540.90 L88.3 540.90 L88.8 540.90 L89.3 540.90 L89.8 540.90 L90.3 540.90 L90.8 540.90 L91.3 540.90 L91.8 540.90 L92.3 540.90 L92.8 540.90 L93.3 540.90 L93.8 540.90 L94.3 540.90 L94.8 540.90 L95.3 540.90 L95.8 540.90 L96.3 540.90 L96.8 540.90 L97.3 540.90 L97.8 540.90 L98.3 540.90 L98.8 540.90 L99.3 540.90 L99.8 540.90 L100.3 540.90 L100.8 540.90 L101.3 540.90 L101.8 540.90 L102.3 540.90 L102.8 540.90 L103.3 540.90 L103.8 540.90 L104.3 540.90 L104.8 540.90 L105.3 540.90 L105.8 540.90 L106.3 540.90 L106.8 540.90 L107.3 540.90 L107.8 540.90 L108.3 540.90 L108.8 540.90 L109.3 540.90 L109.8 540.90 L110.3 540.90 L110.8 540.90 L111.3 540.90 L111.8 540.90 L112.3 540.90 L112.8 540.90 L113.3 540.90 L113.8 540.90 L114.3 540.90 L114.8 540.90 L115.3 540.90 L115.8 540.90 L116.3 540.90 L116.8 540.90 L117.3 540.90 L117.8 540.90 L118.3 540.90 L118.8 540.90 L119.3 540.90 L119.8 540.90 L120.3 540.90 L120.8 540.90 L121.3 540.90 L121.8 540.90 L122.3 540.90 L122.8 540.90 L123.3 540.90 L123.8 540.90 L124.3 540.90 L124.8 540.90 L125.3 540.90 L125.8 540.90 L126.3 540.90 L126.8 540.90 L127.3 540.90 L127.8 540.90 L128.3 540.90 L128.8 540.90 L129.3 540.90 L129.8 540.90 L130.3 540.90 L130.8 540.90 L131.3 540.90 L131.8 540.90 L132.3 540.90 L132.8 540.90" fill="none" stroke="#1a1a1a" stroke-width="1.1" stroke-dasharray="2.2 1.6"/>
<rect x="35.3" y="476.8" width="98.2" height="64.59999999999997" fill="none" stroke="#8a8a8a" stroke-width="1"/>
<path d="M35.3 476.8 V541.4" stroke="#111" stroke-width="1.2"/>
<path d="M141.0 538.96 L141.5 538.33 L142.0 537.52 L142.5 536.49 L143.0 535.22 L143.5 533.68 L144.0 531.85 L144.5 529.71 L145.0 527.29 L145.5 524.58 L146.0 521.63 L146.5 518.48 L147.0 515.17 L147.5 511.77 L148.0 508.34 L148.5 504.94 L149.0 501.63 L149.5 498.49 L150.0 495.56 L150.5 492.90 L151.0 490.58 L151.5 488.64 L152.0 487.14 L152.5 486.13 L153.0 485.64 L153.5 485.70 L154.0 486.42 L154.5 487.90 L155.0 490.08 L155.5 492.89 L156.0 496.21 L156.5 499.92 L157.0 503.89 L157.5 507.98 L158.0 512.06 L158.5 516.02 L159.0 519.76 L159.5 523.20 L160.0 526.31 L160.5 529.05 L161.0 531.41 L161.5 533.41 L162.0 535.06 L162.5 536.41 L163.0 537.49 L163.5 538.33 L164.0 538.98 L164.5 539.47 L165.0 539.84 L165.5 540.10 L166.0 540.29 L166.5 540.43 L167.0 540.52 L167.5 540.58 L168.0 540.62 L168.5 540.65 L169.0 540.67 L169.5 540.68 L170.0 540.69 L170.5 540.69 L171.0 540.70 L171.5 540.70 L172.0 540.70 L172.5 540.70 L173.0 540.70 L173.5 540.70 L174.0 540.70 L174.5 540.70 L175.0 540.70 L175.5 540.70 L176.0 540.70 L176.5 540.70 L177.0 540.70 L177.5 540.70 L178.0 540.70 L178.5 540.70 L179.0 540.70 L179.5 540.70 L180.0 540.70 L180.5 540.70 L181.0 540.70 L181.5 540.70 L182.0 540.70 L182.5 540.70 L183.0 540.70 L183.5 540.70 L184.0 540.70 L184.5 540.70 L185.0 540.70 L185.5 540.70 L186.0 540.70 L186.5 540.70 L187.0 540.70 L187.5 540.70 L188.0 540.70 L188.5 540.70 L189.0 540.70 L189.5 540.70 L190.0 540.70 L190.5 540.70 L191.0 540.70 L191.5 540.70 L192.0 540.70 L192.5 540.70 L193.0 540.70 L193.5 540.70 L194.0 540.70 L194.5 540.70 L195.0 540.70 L195.5 540.70 L196.0 540.70 L196.5 540.70 L197.0 540.70 L197.5 540.70 L198.0 540.70 L198.5 540.70 L199.0 540.70 L199.5 540.70 L200.0 540.70 L200.5 540.70 L201.0 540.70 L201.5 540.70 L202.0 540.70 L202.5 540.70 L203.0 540.70 L203.5 540.70 L204.0 540.70 L204.5 540.70 L205.0 540.70 L205.5 540.70 L206.0 540.70 L206.5 540.70 L207.0 540.70 L207.5 540.70 L208.0 540.70 L208.5 540.70 L209.0 540.70 L209.5 540.70 L210.0 540.70 L210.5 540.70 L211.0 540.70 L211.5 540.70 L212.0 540.70 L212.5 540.70 L213.0 540.70 L213.5 540.70 L214.0 540.70 L214.5 540.70 L215.0 540.70 L215.5 540.70 L216.0 540.70 L216.5 540.70 L217.0 540.70 L217.5 540.70 L218.0 540.70 L218.5 540.70 L219.0 540.70 L219.5 540.70 L220.0 540.70 L220.5 540.70 L221.0 540.70 L221.5 540.70 L222.0 540.70 L222.5 540.70 L223.0 540.70 L223.5 540.70 L224.0 540.70 L224.5 540.70 L225.0 540.70 L225.5 540.70 L226.0 540.70 L226.5 540.70 L227.0 540.70 L227.5 540.70 L228.0 540.70 L228.5 540.70 L229.0 540.70 L229.5 540.70 L230.0 540.70 L230.5 540.70 L231.0 540.70 L231.5 540.70 L232.0 540.70 L232.5 540.70 L233.0 540.70 L233.5 540.70 L234.0 540.70 L234.5 540.70 L235.0 540.70 L235.5 540.70 L235.8 540.7 L141.0 540.7 Z" fill="#808080" stroke="#333" stroke-width="0.8" stroke-linejoin="round"/>
<path d="M141.0 537.51 L141.5 537.29 L142.0 537.06 L142.5 536.83 L143.0 536.61 L143.5 536.39 L144.0 536.17 L144.5 535.96 L145.0 535.76 L145.5 535.57 L146.0 535.40 L146.5 535.24 L147.0 535.09 L147.5 534.95 L148.0 534.82 L148.5 534.70 L149.0 534.57 L149.5 534.43 L150.0 534.25 L150.5 534.04 L151.0 533.77 L151.5 533.41 L152.0 532.90 L152.5 532.19 L153.0 531.20 L153.5 529.87 L154.0 528.13 L154.5 525.92 L155.0 523.21 L155.5 519.98 L156.0 516.26 L156.5 512.10 L157.0 507.63 L157.5 502.98 L158.0 498.35 L158.5 493.96 L159.0 490.03 L159.5 486.78 L160.0 484.41 L160.5 483.07 L161.0 482.86 L161.5 484.23 L162.0 487.28 L162.5 491.73 L163.0 497.21 L163.5 503.28 L164.0 509.51 L164.5 515.52 L165.0 521.00 L165.5 525.78 L166.0 529.75 L166.5 532.91 L167.0 535.34 L167.5 537.12 L168.0 538.39 L168.5 539.25 L169.0 539.82 L169.5 540.18 L170.0 540.41 L170.5 540.54 L171.0 540.61 L171.5 540.66 L172.0 540.68 L172.5 540.69 L173.0 540.69 L173.5 540.70 L174.0 540.70 L174.5 540.70 L175.0 540.70 L175.5 540.70 L176.0 540.70 L176.5 540.70 L177.0 540.70 L177.5 540.70 L178.0 540.70 L178.5 540.70 L179.0 540.70 L179.5 540.70 L180.0 540.70 L180.5 540.70 L181.0 540.70 L181.5 540.70 L182.0 540.70 L182.5 540.70 L183.0 540.70 L183.5 540.70 L184.0 540.70 L184.5 540.70 L185.0 540.70 L185.5 540.70 L186.0 540.70 L186.5 540.70 L187.0 540.70 L187.5 540.70 L188.0 540.70 L188.5 540.70 L189.0 540.70 L189.5 540.70 L190.0 540.70 L190.5 540.70 L191.0 540.70 L191.5 540.70 L192.0 540.70 L192.5 540.70 L193.0 540.70 L193.5 540.70 L194.0 540.70 L194.5 540.70 L195.0 540.70 L195.5 540.70 L196.0 540.70 L196.5 540.70 L197.0 540.70 L197.5 540.70 L198.0 540.70 L198.5 540.70 L199.0 540.70 L199.5 540.70 L200.0 540.70 L200.5 540.70 L201.0 540.70 L201.5 540.70 L202.0 540.70 L202.5 540.70 L203.0 540.70 L203.5 540.70 L204.0 540.70 L204.5 540.70 L205.0 540.70 L205.5 540.70 L206.0 540.70 L206.5 540.70 L207.0 540.70 L207.5 540.70 L208.0 540.70 L208.5 540.70 L209.0 540.70 L209.5 540.70 L210.0 540.70 L210.5 540.70 L211.0 540.70 L211.5 540.70 L212.0 540.70 L212.5 540.70 L213.0 540.70 L213.5 540.70 L214.0 540.70 L214.5 540.70 L215.0 540.70 L215.5 540.70 L216.0 540.70 L216.5 540.70 L217.0 540.70 L217.5 540.70 L218.0 540.70 L218.5 540.70 L219.0 540.70 L219.5 540.70 L220.0 540.70 L220.5 540.70 L221.0 540.70 L221.5 540.70 L222.0 540.70 L222.5 540.70 L223.0 540.70 L223.5 540.70 L224.0 540.70 L224.5 540.70 L225.0 540.70 L225.5 540.70 L226.0 540.70 L226.5 540.70 L227.0 540.70 L227.5 540.70 L228.0 540.70 L228.5 540.70 L229.0 540.70 L229.5 540.70 L230.0 540.70 L230.5 540.70 L231.0 540.70 L231.5 540.70 L232.0 540.70 L232.5 540.70 L233.0 540.70 L233.5 540.70 L234.0 540.70 L234.5 540.70 L235.0 540.70 L235.5 540.70" fill="none" stroke="#3c3c3c" stroke-width="0.9" stroke-linejoin="round"/>
<path d="M141.0 538.91 L141.5 538.75 L142.0 538.59 L142.5 538.41 L143.0 538.23 L143.5 538.05 L144.0 537.86 L144.5 537.66 L145.0 537.46 L145.5 537.26 L146.0 537.06 L146.5 536.86 L147.0 536.66 L147.5 536.46 L148.0 536.26 L148.5 536.07 L149.0 535.89 L149.5 535.71 L150.0 535.53 L150.5 535.36 L151.0 535.19 L151.5 535.02 L152.0 534.84 L152.5 534.63 L153.0 534.39 L153.5 534.08 L154.0 533.69 L154.5 533.17 L155.0 532.48 L155.5 531.59 L156.0 530.47 L156.5 529.06 L157.0 527.29 L157.5 525.11 L158.0 522.48 L158.5 519.39 L159.0 515.84 L159.5 511.88 L160.0 507.59 L160.5 503.11 L161.0 498.58 L161.5 494.19 L162.0 490.16 L162.5 486.70 L163.0 483.98 L163.5 482.18 L164.0 481.41 L164.5 481.76 L165.0 483.38 L165.5 486.19 L166.0 490.01 L166.5 494.63 L167.0 499.76 L167.5 505.14 L168.0 510.51 L168.5 515.64 L169.0 520.38 L169.5 524.59 L170.0 528.21 L170.5 531.24 L171.0 533.70 L171.5 535.64 L172.0 537.12 L172.5 538.23 L173.0 539.03 L173.5 539.60 L174.0 539.99 L174.5 540.25 L175.0 540.42 L175.5 540.53 L176.0 540.60 L176.5 540.64 L177.0 540.67 L177.5 540.68 L178.0 540.69 L178.5 540.70 L179.0 540.70 L179.5 540.70 L180.0 540.70 L180.5 540.70 L181.0 540.70 L181.5 540.70 L182.0 540.70 L182.5 540.70 L183.0 540.70 L183.5 540.70 L184.0 540.70 L184.5 540.70 L185.0 540.70 L185.5 540.70 L186.0 540.70 L186.5 540.70 L187.0 540.70 L187.5 540.70 L188.0 540.70 L188.5 540.70 L189.0 540.70 L189.5 540.70 L190.0 540.70 L190.5 540.70 L191.0 540.70 L191.5 540.70 L192.0 540.70 L192.5 540.70 L193.0 540.70 L193.5 540.70 L194.0 540.70 L194.5 540.70 L195.0 540.70 L195.5 540.70 L196.0 540.70 L196.5 540.70 L197.0 540.70 L197.5 540.70 L198.0 540.70 L198.5 540.70 L199.0 540.70 L199.5 540.70 L200.0 540.70 L200.5 540.70 L201.0 540.70 L201.5 540.70 L202.0 540.70 L202.5 540.70 L203.0 540.70 L203.5 540.70 L204.0 540.70 L204.5 540.70 L205.0 540.70 L205.5 540.70 L206.0 540.70 L206.5 540.70 L207.0 540.70 L207.5 540.70 L208.0 540.70 L208.5 540.70 L209.0 540.70 L209.5 540.70 L210.0 540.70 L210.5 540.70 L211.0 540.70 L211.5 540.70 L212.0 540.70 L212.5 540.70 L213.0 540.70 L213.5 540.70 L214.0 540.70 L214.5 540.70 L215.0 540.70 L215.5 540.70 L216.0 540.70 L216.5 540.70 L217.0 540.70 L217.5 540.70 L218.0 540.70 L218.5 540.70 L219.0 540.70 L219.5 540.70 L220.0 540.70 L220.5 540.70 L221.0 540.70 L221.5 540.70 L222.0 540.70 L222.5 540.70 L223.0 540.70 L223.5 540.70 L224.0 540.70 L224.5 540.70 L225.0 540.70 L225.5 540.70 L226.0 540.70 L226.5 540.70 L227.0 540.70 L227.5 540.70 L228.0 540.70 L228.5 540.70 L229.0 540.70 L229.5 540.70 L230.0 540.70 L230.5 540.70 L231.0 540.70 L231.5 540.70 L232.0 540.70 L232.5 540.70 L233.0 540.70 L233.5 540.70 L234.0 540.70 L234.5 540.70 L235.0 540.70 L235.5 540.70" fill="none" stroke="#1a1a1a" stroke-width="1.1" stroke-dasharray="2.2 1.6"/>
<rect x="140.5" y="477" width="95.80000000000001" height="64.20000000000005" fill="none" stroke="#8a8a8a" stroke-width="1"/>
<path d="M140.5 477 V541.2" stroke="#111" stroke-width="1.2"/>
<path d="M246.1 526.72 L246.6 526.82 L247.1 526.88 L247.6 526.13 L248.1 523.92 L248.6 519.97 L249.1 515.40 L249.6 510.59 L250.1 506.31 L250.6 504.48 L251.1 505.83 L251.6 508.74 L252.1 510.69 L252.6 510.18 L253.1 507.41 L253.6 503.78 L254.1 500.86 L254.6 499.80 L255.1 500.55 L255.6 502.56 L256.1 505.69 L256.6 509.64 L257.1 514.07 L257.6 518.63 L258.1 523.02 L258.6 527.01 L259.1 530.44 L259.6 533.27 L260.1 535.48 L260.6 537.15 L261.1 538.35 L261.6 539.19 L262.1 539.74 L262.6 540.09 L263.1 540.31 L263.6 540.44 L264.1 540.52 L264.6 540.56 L265.1 540.58 L265.6 540.59 L266.1 540.60 L266.6 540.60 L267.1 540.60 L267.6 540.60 L268.1 540.60 L268.6 540.60 L269.1 540.60 L269.6 540.60 L270.1 540.60 L270.6 540.60 L271.1 540.60 L271.6 540.60 L272.1 540.60 L272.6 540.60 L273.1 540.60 L273.6 540.60 L274.1 540.60 L274.6 540.60 L275.1 540.60 L275.6 540.60 L276.1 540.60 L276.6 540.60 L277.1 540.60 L277.6 540.60 L278.1 540.60 L278.6 540.60 L279.1 540.60 L279.6 540.60 L280.1 540.60 L280.6 540.60 L281.1 540.60 L281.6 540.60 L282.1 540.60 L282.6 540.60 L283.1 540.60 L283.6 540.60 L284.1 540.60 L284.6 540.60 L285.1 540.60 L285.6 540.60 L286.1 540.60 L286.6 540.60 L287.1 540.60 L287.6 540.60 L288.1 540.60 L288.6 540.60 L289.1 540.60 L289.6 540.60 L290.1 540.60 L290.6 540.60 L291.1 540.60 L291.6 540.60 L292.1 540.60 L292.6 540.60 L293.1 540.60 L293.6 540.60 L294.1 540.60 L294.6 540.60 L295.1 540.60 L295.6 540.60 L296.1 540.60 L296.6 540.60 L297.1 540.60 L297.6 540.60 L298.1 540.60 L298.6 540.60 L299.1 540.60 L299.6 540.60 L300.1 540.60 L300.6 540.60 L301.1 540.60 L301.6 540.60 L302.1 540.60 L302.6 540.60 L303.1 540.60 L303.6 540.60 L304.1 540.60 L304.6 540.60 L305.1 540.60 L305.6 540.60 L306.1 540.60 L306.6 540.60 L307.1 540.60 L307.6 540.60 L308.1 540.60 L308.6 540.60 L309.1 540.60 L309.6 540.60 L310.1 540.60 L310.6 540.60 L311.1 540.60 L311.6 540.60 L312.1 540.60 L312.6 540.60 L313.1 540.60 L313.6 540.60 L314.1 540.60 L314.6 540.60 L315.1 540.60 L315.6 540.60 L316.1 540.60 L316.6 540.60 L317.1 540.60 L317.6 540.60 L318.1 540.60 L318.6 540.60 L319.1 540.60 L319.6 540.60 L320.1 540.60 L320.6 540.60 L321.1 540.60 L321.6 540.60 L322.1 540.60 L322.6 540.60 L323.1 540.60 L323.6 540.60 L324.1 540.60 L324.6 540.60 L325.1 540.60 L325.6 540.60 L326.1 540.60 L326.6 540.60 L327.1 540.60 L327.6 540.60 L328.1 540.60 L328.6 540.60 L329.1 540.60 L329.6 540.60 L330.1 540.60 L330.6 540.60 L331.1 540.60 L331.6 540.60 L332.1 540.60 L332.6 540.60 L333.1 540.60 L333.6 540.60 L334.1 540.60 L334.6 540.60 L335.1 540.60 L335.6 540.60 L336.1 540.60 L336.6 540.60 L337.1 540.60 L337.6 540.60 L338.1 540.60 L338.6 540.60 L339.1 540.60 L339.6 540.60 L340.1 540.60 L340.6 540.60 L340.7 540.6 L246.1 540.6 Z" fill="#999" stroke="#333" stroke-width="0.8" stroke-linejoin="round"/>
<path d="M246.1 540.60 L246.6 540.60 L247.1 540.60 L247.6 540.60 L248.1 540.60 L248.6 540.60 L249.1 540.60 L249.6 540.60 L250.1 540.60 L250.6 540.60 L251.1 540.60 L251.6 540.60 L252.1 540.59 L252.6 540.59 L253.1 540.59 L253.6 540.59 L254.1 540.58 L254.6 540.57 L255.1 540.57 L255.6 540.56 L256.1 540.55 L256.6 540.53 L257.1 540.51 L257.6 540.49 L258.1 540.46 L258.6 540.43 L259.1 540.39 L259.6 540.35 L260.1 540.29 L260.6 540.23 L261.1 540.16 L261.6 540.07 L262.1 539.98 L262.6 539.87 L263.1 539.74 L263.6 539.58 L264.1 539.39 L264.6 539.15 L265.1 538.83 L265.6 538.39 L266.1 537.77 L266.6 536.90 L267.1 535.67 L267.6 533.97 L268.1 531.67 L268.6 528.66 L269.1 524.85 L269.6 520.23 L270.1 514.85 L270.6 508.91 L271.1 502.68 L271.6 496.56 L272.1 491.02 L272.6 486.51 L273.1 483.45 L273.6 482.14 L274.1 482.70 L274.6 485.09 L275.1 489.06 L275.6 494.25 L276.1 500.19 L276.6 506.43 L277.1 512.53 L277.6 518.16 L278.1 523.10 L278.6 527.23 L279.1 530.56 L279.6 533.13 L280.1 535.05 L280.6 536.45 L281.1 537.46 L281.6 538.16 L282.1 538.67 L282.6 539.03 L283.1 539.30 L283.6 539.51 L284.1 539.68 L284.6 539.82 L285.1 539.93 L285.6 540.04 L286.1 540.13 L286.6 540.20 L287.1 540.27 L287.6 540.33 L288.1 540.38 L288.6 540.42 L289.1 540.45 L289.6 540.48 L290.1 540.50 L290.6 540.52 L291.1 540.54 L291.6 540.55 L292.1 540.56 L292.6 540.57 L293.1 540.58 L293.6 540.58 L294.1 540.59 L294.6 540.59 L295.1 540.59 L295.6 540.59 L296.1 540.60 L296.6 540.60 L297.1 540.60 L297.6 540.60 L298.1 540.60 L298.6 540.60 L299.1 540.60 L299.6 540.60 L300.1 540.60 L300.6 540.60 L301.1 540.60 L301.6 540.60 L302.1 540.60 L302.6 540.60 L303.1 540.60 L303.6 540.60 L304.1 540.60 L304.6 540.60 L305.1 540.60 L305.6 540.60 L306.1 540.60 L306.6 540.60 L307.1 540.60 L307.6 540.60 L308.1 540.60 L308.6 540.60 L309.1 540.60 L309.6 540.60 L310.1 540.60 L310.6 540.60 L311.1 540.60 L311.6 540.60 L312.1 540.60 L312.6 540.60 L313.1 540.60 L313.6 540.60 L314.1 540.60 L314.6 540.60 L315.1 540.60 L315.6 540.60 L316.1 540.60 L316.6 540.60 L317.1 540.60 L317.6 540.60 L318.1 540.60 L318.6 540.60 L319.1 540.60 L319.6 540.60 L320.1 540.60 L320.6 540.60 L321.1 540.60 L321.6 540.60 L322.1 540.60 L322.6 540.60 L323.1 540.60 L323.6 540.60 L324.1 540.60 L324.6 540.60 L325.1 540.60 L325.6 540.60 L326.1 540.60 L326.6 540.60 L327.1 540.60 L327.6 540.60 L328.1 540.60 L328.6 540.60 L329.1 540.60 L329.6 540.60 L330.1 540.60 L330.6 540.60 L331.1 540.60 L331.6 540.60 L332.1 540.60 L332.6 540.60 L333.1 540.60 L333.6 540.60 L334.1 540.60 L334.6 540.60 L335.1 540.60 L335.6 540.60 L336.1 540.60 L336.6 540.60 L337.1 540.60 L337.6 540.60 L338.1 540.60 L338.6 540.60 L339.1 540.60 L339.6 540.60 L340.1 540.60 L340.6 540.60" fill="none" stroke="#3c3c3c" stroke-width="0.9" stroke-linejoin="round"/>
<path d="M246.1 540.60 L246.6 540.60 L247.1 540.60 L247.6 540.60 L248.1 540.60 L248.6 540.60 L249.1 540.60 L249.6 540.60 L250.1 540.60 L250.6 540.60 L251.1 540.60 L251.6 540.60 L252.1 540.59 L252.6 540.59 L253.1 540.59 L253.6 540.59 L254.1 540.58 L254.6 540.58 L255.1 540.57 L255.6 540.56 L256.1 540.55 L256.6 540.54 L257.1 540.52 L257.6 540.50 L258.1 540.48 L258.6 540.45 L259.1 540.41 L259.6 540.37 L260.1 540.32 L260.6 540.26 L261.1 540.19 L261.6 540.11 L262.1 540.01 L262.6 539.91 L263.1 539.78 L263.6 539.62 L264.1 539.43 L264.6 539.18 L265.1 538.85 L265.6 538.39 L266.1 537.76 L266.6 536.87 L267.1 535.64 L267.6 533.96 L268.1 531.72 L268.6 528.81 L269.1 525.16 L269.6 520.75 L270.1 515.63 L270.6 509.95 L271.1 503.96 L271.6 497.99 L272.1 492.45 L272.6 487.76 L273.1 484.32 L273.6 482.42 L274.1 482.24 L274.6 483.80 L275.1 486.96 L275.6 491.43 L276.1 496.83 L276.6 502.75 L277.1 508.77 L277.6 514.53 L278.1 519.78 L278.6 524.34 L279.1 528.14 L279.6 531.19 L280.1 533.56 L280.6 535.34 L281.1 536.66 L281.6 537.60 L282.1 538.28 L282.6 538.77 L283.1 539.12 L283.6 539.38 L284.1 539.59 L284.6 539.75 L285.1 539.88 L285.6 539.99 L286.1 540.09 L286.6 540.17 L287.1 540.24 L287.6 540.30 L288.1 540.36 L288.6 540.40 L289.1 540.44 L289.6 540.47 L290.1 540.50 L290.6 540.52 L291.1 540.53 L291.6 540.55 L292.1 540.56 L292.6 540.57 L293.1 540.58 L293.6 540.58 L294.1 540.59 L294.6 540.59 L295.1 540.59 L295.6 540.59 L296.1 540.60 L296.6 540.60 L297.1 540.60 L297.6 540.60 L298.1 540.60 L298.6 540.60 L299.1 540.60 L299.6 540.60 L300.1 540.60 L300.6 540.60 L301.1 540.60 L301.6 540.60 L302.1 540.60 L302.6 540.60 L303.1 540.60 L303.6 540.60 L304.1 540.60 L304.6 540.60 L305.1 540.60 L305.6 540.60 L306.1 540.60 L306.6 540.60 L307.1 540.60 L307.6 540.60 L308.1 540.60 L308.6 540.60 L309.1 540.60 L309.6 540.60 L310.1 540.60 L310.6 540.60 L311.1 540.60 L311.6 540.60 L312.1 540.60 L312.6 540.60 L313.1 540.60 L313.6 540.60 L314.1 540.60 L314.6 540.60 L315.1 540.60 L315.6 540.60 L316.1 540.60 L316.6 540.60 L317.1 540.60 L317.6 540.60 L318.1 540.60 L318.6 540.60 L319.1 540.60 L319.6 540.60 L320.1 540.60 L320.6 540.60 L321.1 540.60 L321.6 540.60 L322.1 540.60 L322.6 540.60 L323.1 540.60 L323.6 540.60 L324.1 540.60 L324.6 540.60 L325.1 540.60 L325.6 540.60 L326.1 540.60 L326.6 540.60 L327.1 540.60 L327.6 540.60 L328.1 540.60 L328.6 540.60 L329.1 540.60 L329.6 540.60 L330.1 540.60 L330.6 540.60 L331.1 540.60 L331.6 540.60 L332.1 540.60 L332.6 540.60 L333.1 540.60 L333.6 540.60 L334.1 540.60 L334.6 540.60 L335.1 540.60 L335.6 540.60 L336.1 540.60 L336.6 540.60 L337.1 540.60 L337.6 540.60 L338.1 540.60 L338.6 540.60 L339.1 540.60 L339.6 540.60 L340.1 540.60 L340.6 540.60" fill="none" stroke="#1a1a1a" stroke-width="1.1" stroke-dasharray="2.2 1.6"/>
<rect x="245.6" y="477.2" width="95.6" height="63.900000000000034" fill="none" stroke="#8a8a8a" stroke-width="1"/>
<path d="M245.6 477.2 V541.1" stroke="#111" stroke-width="1.2"/>
<text x="60.01" y="379" font-size="9.31" font-weight="normal" fill="#1c1c1c" stroke="#1c1c1c" stroke-width="0.3" textLength="44.50" lengthAdjust="spacingAndGlyphs">IRF-7 APC</text>
<text x="166.41" y="379" font-size="9.31" font-weight="normal" fill="#1c1c1c" stroke="#1c1c1c" stroke-width="0.3" textLength="44.50" lengthAdjust="spacingAndGlyphs">IRF-7 APC</text>
<text x="48.21" y="464.9" font-size="9.28" font-weight="normal" fill="#1c1c1c" stroke="#1c1c1c" stroke-width="0.3" textLength="23.20" lengthAdjust="spacingAndGlyphs">IRF-2</text>
<text x="76.75" y="464.9" font-size="8.44" font-weight="normal" fill="#1c1c1c" stroke="#1c1c1c" stroke-width="0.3" textLength="21.11" lengthAdjust="spacingAndGlyphs">Alexa</text>
<text x="103.28" y="464.9" font-size="8.66" font-weight="normal" fill="#1c1c1c" stroke="#1c1c1c" stroke-width="0.3" textLength="14.45" lengthAdjust="spacingAndGlyphs">488</text>
<text x="153.41" y="464.6" font-size="9.28" font-weight="normal" fill="#1c1c1c" stroke="#1c1c1c" stroke-width="0.3" textLength="23.20" lengthAdjust="spacingAndGlyphs">IRF-2</text>
<text x="181.95" y="464.6" font-size="8.44" font-weight="normal" fill="#1c1c1c" stroke="#1c1c1c" stroke-width="0.3" textLength="21.11" lengthAdjust="spacingAndGlyphs">Alexa</text>
<text x="207.98" y="464.6" font-size="8.66" font-weight="normal" fill="#1c1c1c" stroke="#1c1c1c" stroke-width="0.3" textLength="14.45" lengthAdjust="spacingAndGlyphs">488</text>
<text x="257.21" y="464.6" font-size="9.28" font-weight="normal" fill="#1c1c1c" stroke="#1c1c1c" stroke-width="0.3" textLength="23.20" lengthAdjust="spacingAndGlyphs">IRF-2</text>
<text x="286.15" y="464.6" font-size="8.44" font-weight="normal" fill="#1c1c1c" stroke="#1c1c1c" stroke-width="0.3" textLength="21.11" lengthAdjust="spacingAndGlyphs">Alexa</text>
<text x="312.28" y="464.6" font-size="8.66" font-weight="normal" fill="#1c1c1c" stroke="#1c1c1c" stroke-width="0.3" textLength="14.45" lengthAdjust="spacingAndGlyphs">488</text>
<text x="48.22" y="554.2" font-size="9.24" font-weight="normal" fill="#1c1c1c" stroke="#1c1c1c" stroke-width="0.3" textLength="23.10" lengthAdjust="spacingAndGlyphs">IRF-8</text>
<text x="76.75" y="554.2" font-size="8.44" font-weight="normal" fill="#1c1c1c" stroke="#1c1c1c" stroke-width="0.3" textLength="21.11" lengthAdjust="spacingAndGlyphs">Alexa</text>
<text x="103.28" y="554.2" font-size="8.66" font-weight="normal" fill="#1c1c1c" stroke="#1c1c1c" stroke-width="0.3" textLength="14.45" lengthAdjust="spacingAndGlyphs">488</text>
<text x="152.52" y="553.7" font-size="9.24" font-weight="normal" fill="#1c1c1c" stroke="#1c1c1c" stroke-width="0.3" textLength="23.10" lengthAdjust="spacingAndGlyphs">IRF-8</text>
<text x="178.75" y="553.7" font-size="8.44" font-weight="normal" fill="#1c1c1c" stroke="#1c1c1c" stroke-width="0.3" textLength="21.11" lengthAdjust="spacingAndGlyphs">Alexa</text>
<text x="204.58" y="553.7" font-size="8.66" font-weight="normal" fill="#1c1c1c" stroke="#1c1c1c" stroke-width="0.3" textLength="14.45" lengthAdjust="spacingAndGlyphs">488</text>
<text x="257.02" y="554" font-size="9.24" font-weight="normal" fill="#1c1c1c" stroke="#1c1c1c" stroke-width="0.3" textLength="23.10" lengthAdjust="spacingAndGlyphs">IRF-8</text>
<text x="283.35" y="554" font-size="8.44" font-weight="normal" fill="#1c1c1c" stroke="#1c1c1c" stroke-width="0.3" textLength="21.11" lengthAdjust="spacingAndGlyphs">Alexa</text>
<text x="308.78" y="554" font-size="8.66" font-weight="normal" fill="#1c1c1c" stroke="#1c1c1c" stroke-width="0.3" textLength="14.45" lengthAdjust="spacingAndGlyphs">488</text>
<text x="382.0" y="307.90000000000003" font-size="6.5" font-weight="normal" text-anchor="end" fill="#333" stroke="#333" stroke-width="0.15">25</text>
<text x="382.0" y="320.40000000000003" font-size="6.5" font-weight="normal" text-anchor="end" fill="#333" stroke="#333" stroke-width="0.15">20</text>
<text x="382.0" y="332.90000000000003" font-size="6.5" font-weight="normal" text-anchor="end" fill="#333" stroke="#333" stroke-width="0.15">15</text>
<text x="382.0" y="345.40000000000003" font-size="6.5" font-weight="normal" text-anchor="end" fill="#333" stroke="#333" stroke-width="0.15">10</text>
<text x="382.0" y="358.55" font-size="6.5" font-weight="normal" text-anchor="end" fill="#333" stroke="#333" stroke-width="0.15">5</text>
<text x="382.0" y="370.40000000000003" font-size="6.5" font-weight="normal" text-anchor="end" fill="#333" stroke="#333" stroke-width="0.15">0</text>
<path d="M384.3 303 V367.5 H511.8" fill="none" stroke="#8a8a8a" stroke-width="1"/>
<rect x="397.5" y="344.2" width="17.30000000000001" height="23.30000000000001" fill="#000"/>
<path d="M406.15 344.2 V339.8 M405.15 339.8 H407.15" stroke="#111" stroke-width="1"/>
<rect x="439.4" y="348.8" width="17.700000000000045" height="18.69999999999999" fill="#000"/>
<path d="M448.25 348.8 V345.8 M447.25 345.8 H449.25" stroke="#111" stroke-width="1"/>
<rect x="482.2" y="321.1" width="17.30000000000001" height="46.39999999999998" fill="#000"/>
<path d="M490.85 321.1 V314.4 M489.85 314.4 H491.85" stroke="#111" stroke-width="1"/>
<text x="393.89" y="380.6" font-size="8.92" font-weight="normal" fill="#1c1c1c" stroke="#1c1c1c" stroke-width="0.3" textLength="29.26" lengthAdjust="spacingAndGlyphs">all cells</text>
<text x="441.12" y="380.6" font-size="9.15" font-weight="normal" fill="#1c1c1c" stroke="#1c1c1c" stroke-width="0.3" textLength="19.32" lengthAdjust="spacingAndGlyphs">P24-</text>
<text x="480.02" y="380.6" font-size="9.08" font-weight="normal" fill="#1c1c1c" stroke="#1c1c1c" stroke-width="0.3" textLength="21.47" lengthAdjust="spacingAndGlyphs">P24+</text>
<text transform="translate(367.5 343.87) rotate(-90)" x="0" y="0" font-size="9.59" font-weight="bold" fill="#1c1c1c" textLength="16.51" lengthAdjust="spacingAndGlyphs">MFI</text>
<text x="381.9" y="395.3" font-size="6.5" font-weight="normal" text-anchor="end" fill="#333" stroke="#333" stroke-width="0.15">300</text>
<text x="381.9" y="406.1" font-size="6.5" font-weight="normal" text-anchor="end" fill="#333" stroke="#333" stroke-width="0.15">250</text>
<text x="381.9" y="416.40000000000003" font-size="6.5" font-weight="normal" text-anchor="end" fill="#333" stroke="#333" stroke-width="0.15">200</text>
<text x="381.9" y="426.40000000000003" font-size="6.5" font-weight="normal" text-anchor="end" fill="#333" stroke="#333" stroke-width="0.15">150</text>
<text x="381.9" y="436.90000000000003" font-size="6.5" font-weight="normal" text-anchor="end" fill="#333" stroke="#333" stroke-width="0.15">100</text>
<text x="381.9" y="447.40000000000003" font-size="6.5" font-weight="normal" text-anchor="end" fill="#333" stroke="#333" stroke-width="0.15">50</text>
<text x="381.9" y="457.8" font-size="6.5" font-weight="normal" text-anchor="end" fill="#333" stroke="#333" stroke-width="0.15">0</text>
<path d="M384.2 392 V455.2 H511.9" fill="none" stroke="#8a8a8a" stroke-width="1"/>
<rect x="397.5" y="413.7" width="17.0" height="41.5" fill="#000"/>
<path d="M406.0 413.7 V410.5 M405.0 410.5 H407.0" stroke="#111" stroke-width="1"/>
<rect x="439.8" y="418.8" width="17.30000000000001" height="36.39999999999998" fill="#000"/>
<path d="M448.45000000000005 418.8 V413.7 M447.45000000000005 413.7 H449.45000000000005" stroke="#111" stroke-width="1"/>
<rect x="481.9" y="397.3" width="17.900000000000034" height="57.89999999999998" fill="#000"/>
<path d="M490.85 397.3 V391.9 M489.85 391.9 H491.85" stroke="#111" stroke-width="1"/>
<text x="393.89" y="468.75" font-size="9.05" font-weight="normal" fill="#1c1c1c" stroke="#1c1c1c" stroke-width="0.3" textLength="29.67" lengthAdjust="spacingAndGlyphs">all cells</text>
<text x="441.01" y="468.75" font-size="9.30" font-weight="normal" fill="#1c1c1c" stroke="#1c1c1c" stroke-width="0.3" textLength="19.64" lengthAdjust="spacingAndGlyphs">P24-</text>
<text x="480.72" y="468.75" font-size="9.08" font-weight="normal" fill="#1c1c1c" stroke="#1c1c1c" stroke-width="0.3" textLength="21.47" lengthAdjust="spacingAndGlyphs">P24+</text>
<text transform="translate(364.1 427.28) rotate(-90)" x="0" y="0" font-size="9.16" font-weight="normal" fill="#1c1c1c" stroke="#1c1c1c" stroke-width="0.3" textLength="15.77" lengthAdjust="spacingAndGlyphs">MFI</text>
<text x="379.7" y="482.3" font-size="6.5" font-weight="normal" text-anchor="end" fill="#333" stroke="#333" stroke-width="0.15">50</text>
<text x="379.7" y="496.1" font-size="6.5" font-weight="normal" text-anchor="end" fill="#333" stroke="#333" stroke-width="0.15">40</text>
<text x="379.7" y="509.5" font-size="6.5" font-weight="normal" text-anchor="end" fill="#333" stroke="#333" stroke-width="0.15">30</text>
<text x="379.7" y="522.9" font-size="6.5" font-weight="normal" text-anchor="end" fill="#333" stroke="#333" stroke-width="0.15">20</text>
<text x="379.7" y="535.8" font-size="6.5" font-weight="normal" text-anchor="end" fill="#333" stroke="#333" stroke-width="0.15">10</text>
<text x="379.7" y="549.0999999999999" font-size="6.5" font-weight="normal" text-anchor="end" fill="#333" stroke="#333" stroke-width="0.15">0</text>
<path d="M382 478.7 V546 H515.4" fill="none" stroke="#8a8a8a" stroke-width="1"/>
<rect x="393.1" y="512.8" width="17.69999999999999" height="33.200000000000045" fill="#000"/>
<path d="M401.95000000000005 512.8 V506.4 M400.95000000000005 506.4 H402.95000000000005" stroke="#999" stroke-width="1"/>
<rect x="438.1" y="518.5" width="18.0" height="27.5" fill="#000"/>
<path d="M447.1 518.5 V512.7 M446.1 512.7 H448.1" stroke="#999" stroke-width="1"/>
<rect x="483.1" y="489.6" width="17.799999999999955" height="56.39999999999998" fill="#000"/>
<path d="M492.0 489.6 V478.8 M491.0 478.8 H493.0" stroke="#999" stroke-width="1"/>
<text x="392.39" y="556.5" font-size="8.92" font-weight="normal" fill="#1c1c1c" stroke="#1c1c1c" stroke-width="0.3" textLength="29.26" lengthAdjust="spacingAndGlyphs">all cells</text>
<text x="437.58" y="556.5" font-size="9.60" font-weight="normal" fill="#1c1c1c" stroke="#1c1c1c" stroke-width="0.3" textLength="20.28" lengthAdjust="spacingAndGlyphs">P24-</text>
<text x="482.58" y="556.5" font-size="9.57" font-weight="normal" fill="#1c1c1c" stroke="#1c1c1c" stroke-width="0.3" textLength="22.63" lengthAdjust="spacingAndGlyphs">P24+</text>
<text transform="translate(365 522.03) rotate(-90)" x="0" y="0" font-size="9.81" font-weight="normal" fill="#1c1c1c" stroke="#1c1c1c" stroke-width="0.3" textLength="16.88" lengthAdjust="spacingAndGlyphs">MFI</text></g></svg>
</body></html>
